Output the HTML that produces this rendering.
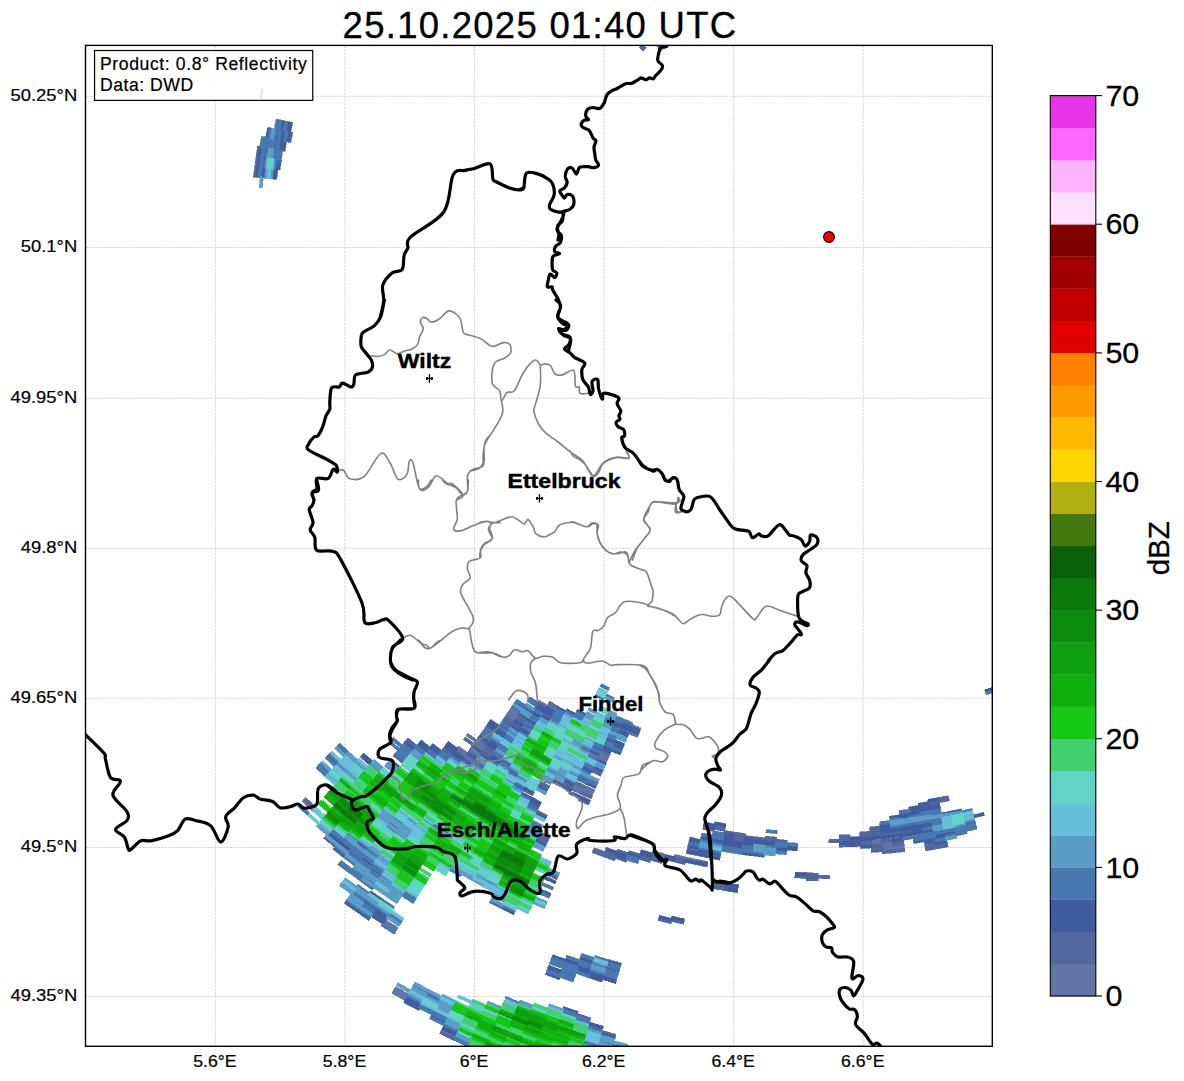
<!DOCTYPE html>
<html><head><meta charset="utf-8"><style>html,body{margin:0;padding:0;background:#fff;width:1184px;height:1081px;overflow:hidden;position:relative}</style></head>
<body>
<svg width="1184" height="1081" viewBox="0 0 1184 1081" style="position:absolute;left:0;top:0">
<defs><clipPath id="ax"><rect x="85.5" y="45.4" width="906.8" height="1000.9"/></clipPath></defs>
<path d="M85.5,96.3H992.3 M85.5,247.5H992.3 M85.5,398.2H992.3 M85.5,548.4H992.3 M85.5,698.2H992.3 M85.5,847.5H992.3 M85.5,996.4H992.3 M215.4,45.4V1046.3 M345.0,45.4V1046.3 M474.5,45.4V1046.3 M604.1,45.4V1046.3 M733.6,45.4V1046.3 M863.2,45.4V1046.3" stroke="#bdbdbd" stroke-width="0.6" stroke-dasharray="2.6,1.0" fill="none"/>
<g clip-path="url(#ax)">
<path fill="#6374a8" stroke="#6374a8" stroke-width="0.6" shape-rendering="crispEdges" d="M638.5,734.6 637.3,737.5 619.2,730.2 620.4,727.3ZM548.0,705.5 546.4,708.2 537.5,702.7 539.1,700.1ZM609.8,754.5 608.6,757.4 598.7,753.2 600.0,750.3ZM608.9,756.6 607.7,759.5 597.8,755.2 599.1,752.3ZM608.0,758.7 606.8,761.6 587.8,753.1 589.2,750.3ZM520.8,712.4 519.1,715.0 510.1,709.0 511.8,706.4ZM607.2,760.8 605.9,763.7 586.9,755.2 588.2,752.3ZM528.0,719.6 526.3,722.3 508.8,710.9 510.6,708.3ZM518.4,716.2 516.7,718.8 507.5,712.8 509.3,710.2ZM517.1,718.1 515.4,720.7 506.3,714.6 508.0,712.0ZM515.9,719.9 514.2,722.6 505.0,716.5 506.8,713.9ZM594.9,789.8 593.7,792.7 583.1,788.1 584.4,785.2ZM594.0,791.8 592.8,794.7 572.6,785.7 573.9,782.9ZM593.1,793.9 591.9,796.8 571.6,787.8 573.0,784.9ZM582.5,791.8 581.3,794.6 570.7,789.8 572.0,787.0ZM487.4,744.3 485.7,746.9 476.0,740.3 477.8,737.7ZM486.2,746.1 484.4,748.8 466.0,735.8 467.8,733.3ZM493.9,753.9 492.2,756.6 473.4,743.9 475.2,741.4ZM483.7,749.9 481.9,752.5 472.1,745.8 474.0,743.2ZM468.3,753.0 466.5,755.6 456.7,748.6 458.6,746.0ZM476.1,761.1 474.4,763.7 455.4,750.4 457.2,747.8ZM474.9,762.9 473.1,765.5 463.1,758.7 464.9,756.1ZM314.9,808.9 312.8,811.3 301.9,801.3 304.1,799.0ZM398.2,927.7 396.5,930.4 383.4,922.0 385.1,919.4ZM397.0,929.6 395.3,932.3 382.1,923.9 383.9,921.3ZM697.2,859.5 696.6,862.6 673.8,857.3 674.6,854.3ZM818.4,875.5 818.3,878.6 806.1,878.3 806.2,875.1ZM409.9,994.6 408.3,997.3 393.9,989.2 395.5,986.5ZM408.8,996.6 407.2,999.3 392.8,991.1 394.4,988.4ZM407.7,998.5 406.2,1001.3 391.7,993.1 393.2,990.4ZM457.1,1036.3 455.8,1039.1 440.5,1031.9 441.9,1029.0ZM902.4,830.5 902.7,833.7 880.9,836.0 880.6,832.8ZM882.2,839.5 882.5,842.6 870.9,843.5 870.7,840.4ZM892.9,840.7 893.3,843.8 871.1,845.7 870.9,842.6ZM893.2,842.9 893.5,846.0 881.9,847.2 881.6,844.0ZM904.0,843.9 904.4,847.1 882.1,849.4 881.8,846.3ZM936.1,841.4 936.6,844.5 925.0,846.4 924.5,843.3ZM904.3,846.2 904.7,849.3 882.3,851.6 882.0,848.5Z"/>
<path fill="#52689f" stroke="#52689f" stroke-width="0.6" shape-rendering="crispEdges" d="M640.9,728.3 639.7,731.2 630.4,727.5 631.5,724.6ZM621.2,727.6 620.0,730.5 610.6,726.4 611.9,723.6ZM558.5,706.4 556.9,709.2 548.0,703.9 549.6,701.2ZM623.9,745.8 622.7,748.7 604.2,740.8 605.5,737.9ZM546.9,707.4 545.2,710.1 528.2,699.5 529.9,696.8ZM552.9,716.2 551.3,718.9 542.2,713.5 543.8,710.8ZM551.7,718.1 550.2,720.9 541.0,715.5 542.6,712.8ZM610.7,752.5 609.5,755.4 599.6,751.1 600.9,748.2ZM536.4,724.8 534.8,727.5 525.5,721.8 527.2,719.1ZM526.8,721.5 525.1,724.2 515.9,718.3 517.6,715.7ZM525.6,723.4 523.9,726.1 514.7,720.2 516.4,717.6ZM523.2,727.2 521.5,729.9 503.8,718.4 505.5,715.8ZM602.8,771.1 601.6,774.0 591.4,769.6 592.6,766.7ZM522.0,729.2 520.3,731.8 502.5,720.2 504.3,717.6ZM601.9,773.2 600.7,776.1 590.4,771.6 591.7,768.8ZM512.2,725.6 510.5,728.3 501.2,722.1 503.0,719.5ZM496.2,731.2 494.5,733.8 485.1,727.4 486.9,724.8ZM585.3,785.6 584.0,788.5 573.5,783.7 574.9,780.9ZM573.8,785.3 572.5,788.2 562.1,783.2 563.4,780.4ZM592.3,796.0 591.0,798.9 580.4,794.2 581.6,791.4ZM572.9,787.4 571.6,790.2 561.1,785.2 562.5,782.4ZM488.7,742.4 486.9,745.0 477.3,738.4 479.1,735.8ZM496.3,750.2 494.6,752.8 484.9,746.3 486.6,743.7ZM589.6,802.2 588.4,805.1 577.6,800.4 578.9,797.5ZM495.1,752.0 493.4,754.7 483.6,748.2 485.4,745.6ZM549.8,786.1 548.3,788.9 537.9,783.5 539.3,780.7ZM548.7,788.1 547.3,790.9 536.8,785.5 538.3,782.7ZM492.7,755.8 491.0,758.5 481.1,751.9 482.8,749.3ZM474.8,743.8 473.0,746.3 463.3,739.5 465.2,736.9ZM491.4,757.7 489.7,760.4 479.8,753.8 481.6,751.2ZM533.9,793.1 532.4,795.9 521.8,790.1 523.3,787.4ZM477.4,759.2 475.6,761.8 465.7,755.0 467.5,752.4ZM465.7,756.7 463.9,759.3 454.1,752.2 455.9,749.7ZM539.6,806.2 538.1,809.0 527.3,803.3 528.8,800.6ZM454.1,753.9 452.2,756.4 442.4,749.2 444.3,746.7ZM538.5,808.2 537.1,811.0 526.2,805.3 527.7,802.6ZM452.8,755.7 450.9,758.3 441.0,751.0 442.9,748.5ZM547.6,815.2 546.2,818.0 535.2,812.5 536.6,809.7ZM428.0,751.1 426.0,753.6 416.3,745.9 418.2,743.4ZM417.6,745.8 415.7,748.3 406.0,740.3 408.0,737.9ZM416.2,747.6 414.2,750.0 404.5,742.0 406.6,739.6ZM550.1,836.3 548.8,839.2 537.4,833.7 538.7,830.9ZM549.2,838.4 547.8,841.2 536.4,835.8 537.8,832.9ZM548.2,840.4 546.9,843.3 535.4,837.8 536.8,835.0ZM547.3,842.5 545.9,845.3 534.4,839.8 535.8,837.0ZM404.9,761.6 402.9,764.0 393.0,755.8 395.0,753.4ZM558.0,876.8 556.8,879.7 544.6,874.4 545.9,871.5ZM369.4,848.0 367.5,850.5 355.9,841.6 357.8,839.1ZM316.4,807.3 314.3,809.6 303.4,799.7 305.6,797.4ZM337.0,845.5 335.0,848.0 323.5,838.5 325.5,836.1ZM386.2,920.1 384.5,922.7 371.5,914.1 373.2,911.5ZM290.9,142.6 287.8,142.0 289.7,131.7 292.8,132.3ZM281.6,131.1 278.5,130.5 280.6,120.0 283.7,120.6ZM256.6,177.3 253.4,177.0 257.5,146.0 260.6,146.5ZM725.6,826.0 725.1,829.1 713.8,827.1 714.4,824.0ZM725.2,828.3 724.7,831.4 713.4,829.3 714.0,826.2ZM777.0,837.3 776.7,840.4 765.2,839.3 765.5,836.2ZM745.6,833.8 745.2,836.9 723.3,833.4 723.9,830.3ZM714.5,828.6 713.9,831.7 702.6,829.4 703.3,826.3ZM787.3,840.4 787.1,843.5 733.4,837.4 733.9,834.3ZM745.0,838.2 744.6,841.3 733.1,839.6 733.6,836.5ZM744.7,840.4 744.2,843.6 732.7,841.8 733.2,838.7ZM699.5,848.5 698.9,851.6 687.2,849.0 687.9,845.9ZM720.6,854.9 720.0,858.0 686.7,851.2 687.4,848.1ZM708.1,861.7 707.5,864.8 695.6,862.4 696.2,859.3ZM807.2,875.2 807.1,878.3 794.9,877.8 795.1,874.6ZM685.9,859.3 685.1,862.4 673.3,859.5 674.0,856.5ZM685.4,861.5 684.6,864.6 661.8,858.9 662.7,855.8ZM663.1,858.3 662.3,861.3 650.4,858.0 651.3,855.0ZM662.5,860.4 661.7,863.5 628.1,853.6 629.1,850.6ZM651.0,859.6 650.1,862.6 638.3,859.1 639.2,856.1ZM629.4,853.0 628.4,856.0 616.7,852.1 617.7,849.1ZM617.2,853.7 616.2,856.7 604.4,852.5 605.5,849.5ZM727.2,883.3 726.7,886.4 714.3,884.4 714.9,881.3ZM627.3,859.4 626.3,862.4 592.9,850.6 594.0,847.7ZM726.8,885.5 726.3,888.7 713.9,886.6 714.5,883.5ZM615.7,858.0 614.7,860.9 592.1,852.7 593.2,849.8ZM737.8,889.5 737.4,892.6 713.5,888.8 714.1,885.7ZM591.0,1017.8 590.0,1020.8 575.2,1016.1 576.1,1013.1ZM602.8,1028.3 601.9,1031.4 586.8,1026.9 587.7,1023.9ZM616.0,1034.3 615.2,1037.4 600.0,1033.2 600.9,1030.1ZM456.1,1038.3 454.8,1041.1 439.5,1033.9 440.9,1031.0ZM684.2,921.1 683.5,924.2 670.4,921.3 671.1,918.3ZM671.7,920.7 671.0,923.8 658.0,920.6 658.7,917.6ZM948.2,795.5 948.8,798.6 938.1,800.7 937.5,797.6ZM948.6,797.7 949.3,800.8 928.6,804.8 928.1,801.7ZM939.3,801.9 939.9,805.0 919.1,808.6 918.6,805.5ZM881.0,826.0 881.3,829.1 870.0,830.0 869.8,826.9ZM881.2,828.2 881.5,831.4 870.1,832.3 869.9,829.1ZM881.4,830.5 881.7,833.6 859.9,835.2 859.7,832.0ZM912.7,829.2 913.1,832.3 901.8,833.8 901.4,830.7ZM881.6,832.7 881.9,835.9 860.0,837.4 859.8,834.3ZM850.3,834.7 850.5,837.8 839.0,838.1 839.0,835.0ZM923.4,829.8 923.9,832.9 860.1,839.6 859.9,836.5ZM850.4,836.9 850.5,840.1 839.0,840.4 839.0,837.2ZM850.5,839.2 850.6,842.3 828.5,842.7 828.5,839.5ZM892.7,838.4 893.0,841.6 881.5,842.7 881.2,839.5ZM871.7,840.3 871.9,843.4 860.3,844.1 860.2,841.0ZM903.5,839.5 903.8,842.6 892.3,843.9 892.0,840.8ZM871.8,842.5 872.1,845.7 860.4,846.4 860.3,843.2ZM850.7,843.7 850.8,846.8 839.2,847.1 839.1,844.0ZM903.7,841.7 904.1,844.8 892.5,846.1 892.2,843.0ZM882.6,843.9 882.9,847.1 871.2,848.0 871.0,844.8ZM882.8,846.2 883.1,849.3 871.4,850.2 871.2,847.1ZM883.0,848.4 883.3,851.6 871.5,852.5 871.3,849.3ZM947.0,841.6 947.6,844.7 925.4,848.7 924.9,845.5ZM904.6,848.4 905.0,851.5 882.5,853.9 882.2,850.7ZM947.5,843.8 948.1,846.9 925.7,850.9 925.2,847.8ZM665.3,49.0 663.2,46.6 666.9,43.5 668.9,45.9ZM643.0,51.3 640.8,49.1 644.4,45.5 646.6,47.8ZM641.4,49.7 639.2,47.5 642.8,43.9 645.0,46.2ZM818.4,873.2 818.4,876.4 795.0,875.5 795.2,872.4ZM829.5,875.5 829.5,878.7 794.9,877.8 795.1,874.6ZM818.3,877.7 818.3,880.9 806.0,880.5 806.1,877.4ZM726.8,885.5 726.3,888.7 713.9,886.6 714.5,883.5ZM726.5,887.8 726.0,890.9 713.5,888.8 714.1,885.7Z"/>
<path fill="#405ca0" stroke="#405ca0" stroke-width="0.6" shape-rendering="crispEdges" d="M632.3,724.9 631.2,727.8 621.8,724.0 623.1,721.1ZM640.1,730.4 638.9,733.3 612.5,722.3 613.7,719.5ZM639.3,732.5 638.1,735.4 611.5,724.4 612.8,721.5ZM629.0,733.2 627.8,736.2 618.3,732.2 619.5,729.3ZM586.5,713.9 585.0,716.7 576.0,712.0 577.4,709.2ZM628.1,735.3 626.9,738.3 608.8,730.5 610.1,727.7ZM576.1,713.6 574.6,716.4 565.5,711.4 567.0,708.7ZM566.7,711.1 565.2,713.8 556.1,708.7 557.7,706.0ZM624.8,743.7 623.6,746.6 605.1,738.8 606.4,735.9ZM556.2,710.3 554.7,713.1 545.6,707.7 547.3,705.0ZM555.1,712.3 553.5,715.0 544.5,709.7 546.1,707.0ZM623.1,747.9 621.9,750.8 612.1,746.7 613.4,743.8ZM554.0,714.2 552.4,717.0 535.1,706.5 536.7,703.9ZM544.5,711.3 542.9,714.0 533.9,708.4 535.6,705.8ZM621.4,752.0 620.2,755.0 601.4,747.0 602.7,744.1ZM611.6,750.4 610.3,753.3 600.5,749.0 601.8,746.2ZM550.6,720.1 549.0,722.8 531.5,712.3 533.2,709.6ZM601.7,748.6 600.4,751.5 590.7,747.0 592.0,744.2ZM541.1,717.1 539.4,719.8 513.8,703.5 515.6,700.8ZM599.9,752.7 598.6,755.6 588.8,751.1 590.1,748.2ZM537.6,722.9 536.0,725.6 518.3,714.5 520.1,711.9ZM606.3,762.8 605.1,765.7 595.0,761.4 596.3,758.5ZM534.1,728.7 532.5,731.4 523.1,725.6 524.8,722.9ZM524.4,725.3 522.7,728.0 513.4,722.1 515.1,719.4ZM603.7,769.0 602.4,771.9 592.3,767.5 593.6,764.7ZM531.8,732.5 530.2,735.2 520.7,729.4 522.4,726.8ZM530.7,734.4 529.0,737.1 519.6,731.3 521.2,728.7ZM592.6,769.1 591.3,772.0 581.2,767.4 582.5,764.5ZM520.8,731.1 519.2,733.7 509.7,727.7 511.5,725.1ZM591.7,771.2 590.4,774.1 580.2,769.4 581.5,766.6ZM509.8,729.4 508.1,732.0 498.7,725.8 500.5,723.2ZM500.0,725.6 498.2,728.2 488.9,721.8 490.7,719.3ZM507.4,733.2 505.6,735.8 487.6,723.7 489.5,721.1ZM588.0,779.4 586.7,782.3 576.4,777.6 577.7,774.7ZM506.1,735.1 504.4,737.7 486.4,725.5 488.2,722.9ZM596.6,785.6 595.4,788.5 584.9,784.0 586.2,781.1ZM504.9,736.9 503.2,739.6 493.7,733.3 495.4,730.7ZM574.8,783.3 573.5,786.2 563.0,781.2 564.4,778.4ZM500.0,744.5 498.3,747.1 488.6,740.7 490.4,738.1ZM563.3,782.8 561.9,785.7 551.5,780.5 553.0,777.7ZM498.8,746.4 497.1,749.0 478.6,736.6 480.4,734.0ZM571.9,789.4 570.6,792.3 550.5,782.5 551.9,779.7ZM497.6,748.3 495.8,750.9 486.1,744.5 487.9,741.9ZM590.5,800.1 589.3,803.0 568.8,793.9 570.1,791.0ZM512.1,765.3 510.5,768.0 491.3,756.0 493.1,753.4ZM501.8,761.6 500.1,764.3 490.1,757.9 491.8,755.3ZM547.7,790.1 546.3,792.9 535.8,787.5 537.2,784.7ZM519.2,774.7 517.6,777.4 507.3,771.4 509.0,768.7ZM500.6,763.5 498.9,766.2 488.9,759.8 490.6,757.2ZM482.4,751.7 480.6,754.3 470.9,747.6 472.7,745.0ZM490.2,759.6 488.5,762.2 478.6,755.7 480.3,753.0ZM534.9,791.1 533.5,793.9 522.9,788.2 524.4,785.4ZM478.6,757.3 476.9,759.9 467.0,753.1 468.8,750.6ZM524.2,787.9 522.7,790.6 512.2,784.7 513.8,782.0ZM485.3,767.1 483.6,769.8 473.5,763.1 475.3,760.5ZM458.0,748.4 456.2,751.0 446.5,743.8 448.4,741.3ZM541.6,802.2 540.2,805.0 519.6,794.1 521.2,791.3ZM456.7,750.3 454.9,752.8 445.1,745.6 447.0,743.1ZM540.6,804.2 539.2,807.0 528.3,801.4 529.8,798.6ZM473.6,764.8 471.8,767.4 443.8,747.4 445.7,744.9ZM463.2,760.4 461.4,762.9 451.4,755.8 453.3,753.3ZM442.4,750.9 440.5,753.4 430.8,745.9 432.7,743.4ZM546.6,817.2 545.2,820.1 534.1,814.5 535.6,811.7ZM441.1,752.7 439.2,755.2 429.4,747.7 431.3,745.2ZM439.7,754.5 437.8,757.0 419.1,742.4 421.1,739.9ZM429.4,749.4 427.4,751.9 417.7,744.1 419.7,741.7ZM437.0,758.1 435.1,760.6 425.2,753.0 427.1,750.5ZM414.8,749.3 412.8,751.8 403.1,743.7 405.1,741.3ZM546.3,844.5 545.0,847.4 533.4,841.8 534.8,839.0ZM400.7,766.8 398.7,769.3 388.6,761.0 390.7,758.6ZM373.6,761.7 371.5,764.1 361.6,755.3 363.7,753.0ZM372.1,763.4 370.1,765.8 360.1,757.0 362.2,754.6ZM556.3,880.9 555.0,883.8 542.8,878.5 544.1,875.6ZM551.0,893.4 549.8,896.3 537.3,890.8 538.6,887.9ZM338.7,763.6 336.5,765.9 326.6,756.5 328.7,754.2ZM515.0,911.8 513.7,914.7 500.8,908.5 502.2,905.7ZM368.0,849.8 366.1,852.3 354.5,843.3 356.4,840.9ZM354.6,845.2 352.7,847.7 341.1,838.5 343.1,836.0ZM373.5,865.0 371.6,867.5 359.7,858.7 361.6,856.2ZM351.9,848.7 349.9,851.2 327.8,833.3 329.9,830.9ZM383.2,874.7 381.4,877.3 369.3,868.6 371.2,866.1ZM361.3,858.8 359.4,861.3 326.4,835.0 328.4,832.6ZM346.3,855.8 344.4,858.3 332.6,849.0 334.6,846.5ZM383.1,899.2 381.4,901.8 368.8,893.1 370.6,890.6ZM388.6,916.3 386.9,918.9 362.3,902.4 364.1,899.8ZM387.4,918.2 385.7,920.8 372.7,912.3 374.5,909.6ZM385.0,922.0 383.2,924.6 370.2,916.0 372.0,913.4ZM370.6,917.8 368.8,920.5 344.2,903.2 346.0,900.7ZM288.7,142.2 285.6,141.6 289.4,121.9 292.5,122.5ZM284.9,151.3 281.8,150.8 283.5,140.4 286.6,140.9ZM288.2,132.3 285.1,131.7 287.2,121.4 290.3,122.1ZM280.0,170.0 276.9,169.7 278.3,159.2 281.4,159.6ZM282.7,150.9 279.6,150.4 283.1,130.4 286.2,131.0ZM276.7,179.4 273.6,179.1 276.0,158.8 279.2,159.3ZM280.5,150.6 277.4,150.1 282.8,120.5 285.9,121.1ZM274.5,179.2 271.3,178.8 272.5,168.2 275.7,168.6ZM276.0,149.9 272.9,149.4 276.5,129.1 279.6,129.7ZM265.5,178.2 262.4,177.9 263.6,167.1 266.7,167.5ZM263.3,178.0 260.1,177.7 264.2,147.1 267.3,147.6ZM268.8,138.7 265.7,138.1 267.6,127.4 270.7,128.0ZM258.8,177.5 255.7,177.2 259.7,146.4 262.8,146.9ZM726.0,823.8 725.5,826.9 714.2,824.9 714.8,821.8ZM715.4,824.2 714.8,827.2 703.5,825.0 704.2,821.9ZM714.9,826.4 714.3,829.5 703.1,827.2 703.7,824.1ZM734.9,834.4 734.4,837.5 723.0,835.6 723.5,832.5ZM776.6,841.8 776.3,844.9 743.6,841.2 744.0,838.1ZM734.5,836.7 734.0,839.8 722.6,837.8 723.1,834.7ZM797.6,845.5 797.4,848.6 785.8,847.9 786.0,844.8ZM776.4,844.0 776.1,847.2 743.3,843.4 743.7,840.3ZM734.2,838.9 733.7,842.0 722.2,840.1 722.7,837.0ZM797.5,847.7 797.3,850.9 774.9,849.3 775.2,846.2ZM755.0,844.1 754.6,847.2 700.7,838.2 701.4,835.1ZM786.7,849.3 786.5,852.5 774.7,851.6 775.0,848.4ZM744.1,844.9 743.6,848.0 700.2,840.4 700.9,837.3ZM743.8,847.1 743.3,850.2 721.0,846.7 721.5,843.6ZM701.4,839.7 700.7,842.8 689.2,840.2 689.9,837.1ZM700.9,841.9 700.3,845.0 688.7,842.4 689.4,839.3ZM764.6,854.2 764.3,857.3 741.7,854.6 742.1,851.4ZM700.0,846.3 699.3,849.4 687.7,846.8 688.4,843.7ZM721.0,852.6 720.4,855.7 697.9,851.4 698.6,848.3ZM720.2,857.1 719.6,860.2 686.2,853.4 686.9,850.3ZM807.3,872.9 807.2,876.1 795.0,875.5 795.2,872.4ZM707.7,863.9 707.1,867.0 684.1,862.1 684.9,859.1ZM675.0,856.7 674.3,859.8 662.4,856.7 663.2,853.7ZM663.6,856.1 662.8,859.1 640.2,852.7 641.2,849.7ZM652.2,855.3 651.4,858.3 639.6,854.8 640.5,851.8ZM640.2,856.4 639.3,859.4 627.4,855.7 628.4,852.7ZM628.7,855.2 627.7,858.2 605.2,850.4 606.3,847.4ZM628.0,857.3 627.0,860.3 615.2,856.3 616.2,853.4ZM738.5,885.0 738.0,888.1 725.6,886.3 726.1,883.2ZM738.1,887.2 737.7,890.4 725.3,888.5 725.8,885.4ZM578.1,1011.4 577.1,1014.4 562.3,1009.5 563.4,1006.5ZM603.4,1026.2 602.5,1029.2 587.5,1024.8 588.4,1021.7ZM615.5,1036.5 614.6,1039.6 599.4,1035.3 600.3,1032.3ZM627.3,1048.9 626.5,1051.9 611.0,1047.9 611.8,1044.9ZM626.7,1051.0 626.0,1054.1 610.4,1050.1 611.3,1047.0ZM612.0,1049.6 611.2,1052.6 595.7,1048.3 596.5,1045.3ZM441.7,998.7 440.2,1001.5 425.7,994.0 427.2,991.2ZM422.1,1003.8 420.6,1006.6 406.0,998.6 407.6,995.9ZM421.0,1005.8 419.6,1008.5 404.9,1000.6 406.5,997.8ZM447.1,1021.5 445.7,1024.4 430.8,1016.9 432.2,1014.1ZM420.0,1007.7 418.5,1010.5 403.8,1002.6 405.4,999.8ZM459.0,1032.2 457.6,1035.0 442.5,1027.8 443.9,1025.0ZM458.0,1034.2 456.7,1037.1 441.5,1029.8 442.9,1027.0ZM684.6,918.9 684.0,922.0 670.9,919.1 671.7,916.1ZM672.2,918.5 671.5,921.6 658.5,918.4 659.3,915.4ZM621.3,963.4 620.5,966.5 606.6,962.4 607.5,959.4ZM594.7,960.0 593.7,963.0 579.9,958.4 581.0,955.4ZM619.5,969.9 618.6,973.0 579.2,960.5 580.2,957.6ZM579.9,962.2 578.9,965.2 565.1,960.3 566.2,957.3ZM591.9,968.6 591.0,971.6 551.7,957.7 552.8,954.7ZM617.0,978.6 616.1,981.6 576.3,969.1 577.3,966.1ZM616.4,980.8 615.5,983.8 575.5,971.2 576.6,968.2ZM602.8,979.1 601.9,982.1 587.7,977.6 588.7,974.6ZM575.5,975.0 574.5,978.0 547.7,968.2 548.8,965.2ZM561.9,972.6 560.9,975.5 546.8,970.3 548.0,967.3ZM560.4,976.8 559.3,979.8 545.2,974.5 546.4,971.5ZM938.4,797.5 939.0,800.6 928.3,802.6 927.7,799.5ZM929.0,801.5 929.6,804.6 918.7,806.4 918.2,803.3ZM919.5,805.4 920.0,808.5 909.1,810.1 908.6,807.0ZM939.7,804.1 940.3,807.2 909.4,812.4 909.0,809.2ZM940.1,806.3 940.7,809.4 899.6,815.9 899.2,812.8ZM920.6,812.1 921.0,815.2 889.7,819.3 889.4,816.2ZM910.8,815.8 911.3,818.9 900.2,820.4 899.8,817.2ZM961.5,808.7 962.2,811.7 941.1,816.2 940.5,813.1ZM891.0,822.8 891.4,825.9 880.1,827.0 879.9,823.8ZM891.3,825.0 891.6,828.1 880.3,829.2 880.1,826.1ZM932.5,821.4 933.1,824.6 880.5,831.5 880.3,828.3ZM983.7,812.4 984.5,815.4 973.4,818.3 972.7,815.2ZM932.9,823.7 933.5,826.8 880.7,833.7 880.5,830.6ZM923.0,827.6 923.5,830.7 912.2,832.4 911.8,829.3ZM974.7,819.4 975.5,822.4 964.3,825.1 963.6,822.0ZM933.7,828.1 934.3,831.2 922.9,833.1 922.4,830.0ZM860.9,836.5 861.1,839.6 849.6,840.1 849.5,837.0ZM934.1,830.3 934.7,833.4 849.7,842.3 849.5,839.2ZM903.2,837.2 903.6,840.4 892.1,841.7 891.7,838.5ZM861.1,840.9 861.3,844.1 839.1,844.9 839.1,841.7ZM955.7,830.7 956.3,833.8 934.5,838.0 933.9,834.9ZM861.3,843.2 861.4,846.3 849.8,846.8 849.7,843.7ZM945.7,835.0 946.3,838.1 913.8,843.6 913.3,840.4ZM872.0,844.8 872.2,847.9 860.6,848.6 860.4,845.5ZM935.7,839.2 936.2,842.3 924.7,844.2 924.2,841.1ZM946.6,839.4 947.2,842.5 935.6,844.7 935.1,841.6ZM660.5,50.2 658.4,47.9 662.1,44.6 664.1,47.0ZM659.0,48.5 656.9,46.2 660.6,42.9 662.6,45.3ZM993.1,686.8 994.2,689.8 985.5,692.8 984.5,689.8ZM738.5,885.0 738.0,888.1 725.6,886.3 726.1,883.2ZM738.1,887.2 737.7,890.4 725.3,888.5 725.8,885.4ZM737.8,889.5 737.4,892.6 724.9,890.7 725.4,887.6Z"/>
<path fill="#4878b0" stroke="#4878b0" stroke-width="0.6" shape-rendering="crispEdges" d="M609.6,687.7 608.2,690.6 599.6,686.3 601.1,683.5ZM614.7,697.6 613.3,700.5 604.5,696.3 605.9,693.5ZM604.7,697.9 603.3,700.7 594.5,696.3 595.9,693.5ZM633.2,722.8 632.0,725.7 614.3,718.2 615.6,715.3ZM623.8,721.4 622.6,724.3 613.4,720.3 614.7,717.4ZM614.5,719.8 613.2,722.7 604.0,718.5 605.3,715.6ZM613.6,721.9 612.3,724.7 603.1,720.5 604.4,717.7ZM612.7,723.9 611.4,726.8 602.1,722.6 603.4,719.7ZM620.3,729.7 619.1,732.6 609.7,728.5 611.0,725.6ZM585.5,715.9 584.0,718.7 574.9,714.0 576.4,711.2ZM584.4,717.9 583.0,720.7 573.8,716.0 575.3,713.2ZM617.7,735.9 616.5,738.8 607.0,734.7 608.2,731.8ZM583.4,719.9 582.0,722.8 564.4,713.4 566.0,710.7ZM616.8,738.0 615.6,740.9 606.0,736.7 607.3,733.8ZM565.6,713.0 564.1,715.8 546.8,705.8 548.4,703.1ZM564.5,715.0 563.0,717.8 553.9,712.6 555.5,709.9ZM563.4,717.0 561.9,719.7 552.8,714.6 554.3,711.8ZM614.2,744.2 613.0,747.1 603.3,742.9 604.6,740.0ZM562.4,719.0 560.8,721.7 551.6,716.5 553.2,713.8ZM537.5,704.3 535.8,707.0 526.9,701.3 528.6,698.7ZM622.2,749.9 621.1,752.9 602.4,744.9 603.7,742.1ZM561.3,720.9 559.7,723.7 550.5,718.5 552.1,715.7ZM603.5,744.5 602.3,747.4 592.6,742.9 593.9,740.1ZM560.2,722.9 558.6,725.6 549.4,720.4 551.0,717.7ZM543.4,713.2 541.8,715.9 532.7,710.4 534.4,707.7ZM602.6,746.5 601.4,749.4 591.6,745.0 593.0,742.1ZM533.9,710.1 532.3,712.7 515.1,701.6 516.9,699.0ZM600.8,750.6 599.5,753.5 589.7,749.1 591.1,746.2ZM539.9,719.0 538.3,721.7 529.1,716.1 530.8,713.4ZM590.9,748.6 589.6,751.5 579.8,746.8 581.2,744.0ZM538.8,720.9 537.1,723.6 527.9,718.0 529.6,715.3ZM522.0,710.5 520.3,713.2 511.3,707.2 513.1,704.6ZM590.0,750.7 588.6,753.5 578.9,748.8 580.2,746.0ZM597.2,758.9 595.9,761.7 585.9,757.2 587.2,754.4ZM535.3,726.7 533.7,729.4 524.3,723.7 526.0,721.0ZM533.0,730.6 531.3,733.3 521.9,727.5 523.6,724.8ZM594.4,765.0 593.1,767.9 583.1,763.3 584.4,760.5ZM593.5,767.1 592.2,770.0 582.1,765.4 583.4,762.5ZM529.5,736.4 527.9,739.1 518.4,733.2 520.0,730.6ZM511.0,727.5 509.3,730.1 500.0,724.0 501.7,721.4ZM590.8,773.3 589.5,776.1 579.2,771.5 580.6,768.6ZM518.4,734.9 516.8,737.6 507.3,731.5 509.0,728.9ZM508.6,731.3 506.9,733.9 497.5,727.7 499.2,725.1ZM598.4,781.5 597.2,784.4 577.3,775.6 578.7,772.7ZM516.1,738.7 514.4,741.4 504.8,735.3 506.6,732.6ZM597.5,783.6 596.3,786.5 585.9,781.9 587.1,779.0ZM578.6,775.1 577.3,778.0 567.0,773.1 568.4,770.3ZM514.9,740.6 513.2,743.3 503.6,737.2 505.3,734.5ZM587.1,781.5 585.8,784.4 575.4,779.6 576.8,776.8ZM513.7,742.5 512.0,745.2 502.4,739.1 504.1,736.4ZM495.0,733.1 493.2,735.7 483.8,729.2 485.6,726.6ZM575.7,781.3 574.4,784.1 545.3,769.6 546.8,766.8ZM493.7,734.9 492.0,737.6 482.5,731.0 484.3,728.5ZM510.1,748.2 508.4,750.9 481.2,732.9 483.0,730.3ZM508.9,750.2 507.2,752.8 497.5,746.6 499.2,744.0ZM491.2,738.7 489.4,741.3 479.9,734.7 481.7,732.1ZM507.7,752.1 506.1,754.7 496.3,748.5 498.0,745.9ZM505.3,755.9 503.7,758.6 493.8,752.3 495.5,749.6ZM513.3,763.4 511.7,766.1 492.6,754.1 494.3,751.5ZM520.3,772.7 518.7,775.4 499.3,763.8 500.9,761.1ZM528.6,780.0 527.1,782.7 516.7,776.9 518.3,774.2ZM509.8,769.2 508.2,771.9 498.1,765.7 499.7,763.0ZM518.0,776.6 516.5,779.3 506.2,773.3 507.8,770.6ZM499.4,765.4 497.7,768.1 487.7,761.7 489.4,759.1ZM481.1,753.6 479.4,756.2 469.6,749.5 471.4,746.9ZM479.9,755.5 478.1,758.1 468.3,751.3 470.1,748.7ZM525.3,785.9 523.8,788.6 513.3,782.7 514.9,780.0ZM514.7,782.5 513.1,785.2 502.7,779.1 504.3,776.4ZM486.5,765.3 484.8,767.9 474.8,761.2 476.5,758.6ZM523.1,789.8 521.6,792.6 511.1,786.6 512.7,783.9ZM484.1,769.0 482.4,771.7 472.3,765.0 474.0,762.4ZM530.7,799.1 529.2,801.8 518.5,796.0 520.1,793.3ZM472.4,766.7 470.6,769.3 460.5,762.4 462.3,759.8ZM461.9,762.2 460.1,764.8 450.1,757.7 451.9,755.1ZM537.5,810.2 536.1,813.0 525.2,807.3 526.7,804.5ZM451.4,757.5 449.6,760.1 439.7,752.8 441.6,750.3ZM450.1,759.4 448.3,761.9 438.3,754.6 440.2,752.0ZM448.8,761.2 446.9,763.7 437.0,756.4 438.9,753.8ZM438.4,756.3 436.5,758.8 426.6,751.2 428.5,748.7ZM542.6,825.3 541.3,828.1 530.1,822.6 531.5,819.7ZM426.6,752.9 424.6,755.4 414.8,747.6 416.8,745.2ZM541.7,827.3 540.3,830.2 529.0,824.6 530.5,821.8ZM425.2,754.7 423.3,757.2 413.4,749.4 415.4,746.9ZM540.7,829.4 539.3,832.2 528.0,826.6 529.4,823.8ZM413.4,751.1 411.4,753.5 401.7,745.5 403.7,743.1ZM538.7,833.4 537.3,836.2 526.0,830.6 527.4,827.8ZM412.0,752.8 410.0,755.3 391.4,739.6 393.4,737.3ZM410.6,754.6 408.6,757.0 398.8,748.9 400.8,746.5ZM409.2,756.3 407.2,758.8 388.4,743.0 390.5,740.6ZM407.7,758.1 405.8,760.5 395.9,752.4 397.9,749.9ZM406.3,759.8 404.3,762.3 394.4,754.1 396.4,751.7ZM558.9,874.7 557.7,877.6 545.5,872.3 546.8,869.5ZM381.4,771.3 379.3,773.7 369.2,765.1 371.3,762.7ZM349.4,752.1 347.3,754.4 337.5,745.1 339.7,742.9ZM553.6,887.1 552.4,890.0 540.0,884.7 541.3,881.8ZM455.3,836.1 453.7,838.7 432.0,824.6 433.7,822.0ZM357.0,762.1 354.9,764.4 335.9,746.8 338.1,744.5ZM443.7,831.3 442.0,834.0 420.5,819.5 422.3,816.9ZM550.1,895.4 548.9,898.3 536.4,892.9 537.6,890.0ZM340.2,762.0 338.1,764.3 328.1,754.8 330.3,752.6ZM348.0,772.1 345.8,774.5 335.7,765.2 337.8,762.9ZM337.2,765.3 335.0,767.6 325.0,758.1 327.2,755.8ZM403.9,823.1 402.0,825.7 390.9,817.4 392.8,814.9ZM498.8,886.4 497.3,889.2 485.0,882.8 486.5,880.0ZM399.9,828.6 398.1,831.1 386.8,822.8 388.7,820.3ZM331.0,771.9 328.9,774.2 318.7,764.6 320.9,762.3ZM329.5,773.5 327.3,775.8 317.2,766.2 319.4,763.9ZM461.9,874.1 460.3,876.8 448.2,869.7 449.8,867.0ZM397.3,832.2 395.4,834.8 384.1,826.4 386.0,823.9ZM328.0,775.2 325.8,777.5 315.6,767.8 317.8,765.5ZM515.9,909.8 514.6,912.6 501.8,906.5 503.2,903.7ZM503.3,906.2 501.9,909.1 489.1,902.7 490.6,899.9ZM380.1,855.9 378.3,858.4 366.5,849.7 368.4,847.2ZM358.8,839.8 356.8,842.3 345.4,833.2 347.4,830.8ZM378.8,857.7 376.9,860.3 365.1,851.5 367.0,849.0ZM376.1,861.4 374.3,863.9 351.7,846.9 353.7,844.4ZM344.1,836.8 342.1,839.3 330.7,829.9 332.7,827.5ZM385.8,871.0 384.0,873.6 329.3,831.6 331.3,829.2ZM384.5,872.9 382.7,875.4 370.6,866.8 372.5,864.3ZM362.6,857.0 360.7,859.5 348.9,850.4 350.9,848.0ZM310.3,813.9 308.2,816.3 297.3,806.3 299.5,804.0ZM417.2,897.2 415.6,899.8 403.0,891.8 404.7,889.2ZM394.4,882.4 392.7,885.0 380.4,876.6 382.2,874.0ZM372.2,866.8 370.3,869.4 358.4,860.5 360.3,858.0ZM416.0,899.1 414.4,901.7 401.8,893.7 403.5,891.1ZM381.9,876.5 380.1,879.1 346.2,854.0 348.1,851.5ZM414.8,901.0 413.2,903.6 400.6,895.6 402.3,893.0ZM391.9,886.1 390.2,888.7 366.7,872.3 368.5,869.7ZM347.7,854.0 345.8,856.5 334.1,847.2 336.0,844.8ZM357.2,864.1 355.3,866.7 343.4,857.5 345.3,855.0ZM376.8,883.9 375.0,886.5 351.6,869.5 353.5,867.0ZM364.3,877.7 362.4,880.3 339.2,862.8 341.2,860.4ZM374.2,887.6 372.4,890.2 337.8,864.6 339.8,862.1ZM394.8,906.9 393.0,909.5 380.3,901.1 382.1,898.5ZM370.3,893.1 368.5,895.7 356.1,886.8 357.9,884.3ZM402.9,920.1 401.3,922.7 388.3,914.5 390.0,911.8ZM401.7,922.0 400.1,924.6 352.1,892.3 354.0,889.7ZM365.2,900.5 363.4,903.1 350.8,894.1 352.6,891.6ZM375.6,910.4 373.8,913.0 361.0,904.2 362.8,901.6ZM374.3,912.2 372.6,914.9 359.7,906.0 361.5,903.5ZM395.8,931.5 394.1,934.2 380.9,925.8 382.6,923.1ZM371.8,916.0 370.1,918.6 345.5,901.4 347.3,898.8ZM286.5,141.8 283.4,141.2 285.3,130.9 288.4,131.5ZM281.3,160.5 278.2,160.0 279.7,149.6 282.8,150.0ZM286.0,131.9 282.9,131.3 285.0,120.9 288.1,121.6ZM279.0,160.2 275.9,159.7 277.5,149.2 280.6,149.7ZM275.6,169.5 272.4,169.1 278.7,129.6 281.8,130.2ZM274.6,159.5 271.5,159.1 273.1,148.5 276.2,149.0ZM279.4,130.6 276.3,130.0 278.4,119.5 281.5,120.2ZM273.8,149.5 270.7,149.0 276.2,119.0 279.3,119.7ZM271.6,149.2 268.5,148.7 270.2,138.0 273.4,138.6ZM266.6,168.4 263.5,168.0 269.9,127.8 272.9,128.5ZM267.1,148.5 264.0,148.0 265.8,137.2 268.9,137.8ZM261.0,177.8 257.9,177.4 263.6,136.8 266.7,137.4ZM262.7,147.8 259.6,147.3 261.4,136.4 264.5,137.0ZM777.5,830.6 777.3,833.7 765.9,832.6 766.2,829.5ZM724.5,832.7 723.9,835.8 712.5,833.7 713.1,830.6ZM797.7,843.2 797.6,846.4 775.3,844.8 775.6,841.7ZM724.1,834.9 723.5,838.0 712.1,835.9 712.7,832.8ZM787.0,844.8 786.8,848.0 775.1,847.1 775.4,843.9ZM723.7,837.1 723.1,840.2 701.2,836.0 701.8,832.9ZM776.2,846.3 775.9,849.4 764.3,848.3 764.6,845.1ZM754.7,846.3 754.3,849.4 742.6,847.9 743.1,844.8ZM786.5,851.6 786.3,854.7 774.5,853.8 774.8,850.7ZM754.4,848.5 754.0,851.6 742.3,850.1 742.8,847.0ZM722.5,843.8 722.0,846.9 699.8,842.6 700.4,839.5ZM764.9,852.0 764.5,855.1 720.6,848.9 721.1,845.8ZM743.1,851.6 742.7,854.7 720.2,851.1 720.8,848.0ZM700.5,844.1 699.8,847.2 688.2,844.6 688.9,841.5ZM721.3,850.4 720.8,853.5 698.4,849.2 699.0,846.1ZM664.2,853.9 663.4,857.0 651.6,853.7 652.5,850.7ZM639.5,858.6 638.6,861.6 626.7,857.8 627.7,854.8ZM638.9,860.7 637.9,863.7 626.0,860.0 627.0,857.0ZM577.4,1013.5 576.4,1016.5 561.6,1011.6 562.6,1008.6ZM590.3,1020.0 589.4,1023.0 560.9,1013.7 561.9,1010.7ZM589.6,1022.1 588.7,1025.1 573.8,1020.4 574.7,1017.4ZM602.2,1030.5 601.3,1033.5 586.2,1029.1 587.1,1026.0ZM520.4,1002.5 519.3,1005.4 504.7,999.3 505.9,996.4ZM627.8,1046.7 627.1,1049.7 597.5,1041.8 598.4,1038.8ZM612.6,1047.4 611.7,1050.4 582.2,1042.0 583.1,1039.0ZM597.8,1045.7 597.0,1048.7 581.5,1044.1 582.5,1041.1ZM611.4,1051.7 610.6,1054.8 595.0,1050.5 595.9,1047.4ZM596.0,1052.1 595.1,1055.2 579.6,1050.6 580.5,1047.6ZM428.4,991.8 426.9,994.6 412.6,986.8 414.1,984.1ZM440.6,1000.7 439.2,1003.5 424.7,996.0 426.2,993.2ZM423.1,1001.8 421.7,1004.6 407.1,996.7 408.6,993.9ZM449.1,1017.5 447.7,1020.3 419.4,1005.9 420.9,1003.1ZM448.1,1019.5 446.7,1022.4 418.3,1007.9 419.8,1005.1ZM459.9,1030.1 458.6,1033.0 429.8,1018.9 431.2,1016.1ZM471.1,1042.6 469.8,1045.5 454.5,1038.5 455.8,1035.7ZM470.2,1044.7 468.9,1047.6 453.5,1040.5 454.8,1037.7ZM608.7,959.7 607.8,962.7 594.0,958.4 594.9,955.4ZM620.7,965.6 619.8,968.6 605.9,964.5 606.9,961.5ZM595.4,957.9 594.4,960.9 580.7,956.3 581.7,953.3ZM620.1,967.8 619.2,970.8 605.3,966.7 606.2,963.7ZM618.8,972.1 618.0,975.1 604.0,971.0 604.9,968.0ZM593.3,964.3 592.4,967.3 565.9,958.2 566.9,955.2ZM618.2,974.3 617.4,977.3 603.3,973.1 604.2,970.1ZM592.6,966.5 591.7,969.5 577.7,964.8 578.8,961.8ZM617.6,976.4 616.7,979.5 589.8,971.2 590.8,968.2ZM578.5,966.5 577.4,969.5 550.9,959.8 552.0,956.8ZM577.7,968.6 576.7,971.6 550.1,961.9 551.2,958.9ZM589.9,975.0 588.9,978.0 549.3,964.0 550.4,961.0ZM576.3,972.9 575.3,975.8 561.2,970.9 562.3,967.9ZM574.8,977.1 573.8,980.1 559.7,975.1 560.8,972.1ZM574.1,979.2 573.1,982.2 546.0,972.4 547.2,969.4ZM909.9,809.1 910.3,812.2 899.3,813.7 899.0,810.5ZM940.6,808.5 941.2,811.6 920.1,815.3 919.6,812.2ZM941.0,810.7 941.6,813.8 910.3,819.0 909.9,815.9ZM900.7,817.1 901.1,820.3 890.0,821.5 889.6,818.4ZM941.4,812.9 942.0,816.0 931.0,818.1 930.4,815.0ZM890.8,820.5 891.1,823.7 879.9,824.7 879.7,821.6ZM972.0,808.4 972.7,811.5 961.8,814.1 961.0,811.1ZM942.3,817.3 942.9,820.4 890.7,828.2 890.3,825.1ZM942.7,819.6 943.3,822.6 932.1,824.7 931.6,821.6ZM943.2,821.8 943.8,824.9 932.5,826.9 932.0,823.8ZM933.3,825.9 933.9,829.0 922.6,830.9 922.1,827.8ZM975.2,821.5 976.0,824.6 933.7,833.6 933.2,830.5ZM975.8,823.7 976.5,826.8 902.6,840.5 902.2,837.4ZM976.3,825.9 977.1,829.0 955.4,834.0 954.7,830.9ZM934.9,834.7 935.4,837.8 913.4,841.3 913.0,838.2ZM966.5,830.6 967.2,833.6 945.4,838.3 944.8,835.2ZM946.2,837.2 946.8,840.3 935.3,842.4 934.7,839.3ZM993.9,688.9 995.0,691.9 986.3,694.9 985.3,692.0Z"/>
<path fill="#5a9ec8" stroke="#5a9ec8" stroke-width="0.6" shape-rendering="crispEdges" d="M613.7,699.7 612.4,702.5 603.5,698.3 604.9,695.5ZM617.2,713.6 616.0,716.5 606.9,712.4 608.2,709.5ZM616.3,715.7 615.1,718.6 605.9,714.4 607.3,711.5ZM615.4,717.7 614.1,720.6 605.0,716.4 606.3,713.6ZM597.8,712.0 596.4,714.9 587.3,710.3 588.8,707.5ZM595.8,716.1 594.4,718.9 585.3,714.3 586.7,711.5ZM611.8,726.0 610.5,728.8 601.2,724.6 602.5,721.7ZM594.8,718.1 593.5,720.9 584.3,716.3 585.7,713.5ZM610.9,728.0 609.6,730.9 600.2,726.6 601.5,723.8ZM593.8,720.1 592.5,722.9 583.3,718.3 584.7,715.5ZM627.3,737.4 626.1,740.3 607.9,732.6 609.2,729.7ZM626.4,739.5 625.3,742.4 615.7,738.5 616.9,735.6ZM591.9,724.2 590.5,727.0 581.2,722.4 582.6,719.6ZM608.1,734.2 606.8,737.1 597.3,732.7 598.7,729.9ZM574.0,717.6 572.5,720.4 563.3,715.4 564.9,712.6ZM594.7,740.5 593.4,743.3 583.8,738.7 585.2,735.9ZM568.7,727.5 567.2,730.3 557.9,725.2 559.4,722.5ZM535.1,708.2 533.4,710.8 524.5,705.1 526.2,702.5ZM559.1,724.9 557.6,727.6 548.3,722.4 549.8,719.6ZM549.5,722.0 547.9,724.8 538.7,719.3 540.3,716.6ZM591.9,746.6 590.5,749.4 572.0,740.4 573.4,737.6ZM548.4,724.0 546.8,726.7 537.5,721.2 539.1,718.5ZM531.5,713.9 529.9,716.6 512.6,705.3 514.3,702.7ZM582.0,744.4 580.7,747.2 571.0,742.4 572.4,739.6ZM530.3,715.8 528.7,718.5 519.6,712.7 521.3,710.0ZM581.0,746.4 579.7,749.2 561.1,739.8 562.6,737.0ZM589.0,752.7 587.7,755.6 577.9,750.9 579.2,748.0ZM605.4,764.9 604.2,767.8 594.1,763.4 595.4,760.5ZM604.5,767.0 603.3,769.9 593.2,765.5 594.5,762.6ZM576.1,756.5 574.7,759.4 564.8,754.4 566.3,751.6ZM582.4,767.0 581.1,769.8 552.7,755.7 554.2,752.9ZM519.6,733.0 518.0,735.6 508.5,729.6 510.2,727.0ZM581.4,769.0 580.1,771.9 570.0,767.0 571.3,764.2ZM563.0,760.1 561.6,762.9 551.6,757.7 553.1,754.9ZM527.2,740.2 525.6,742.9 516.0,737.1 517.6,734.4ZM599.3,779.4 598.0,782.3 578.3,773.5 579.6,770.7ZM517.3,736.8 515.6,739.5 506.1,733.4 507.8,730.8ZM579.5,773.1 578.2,776.0 568.0,771.1 569.4,768.2ZM524.9,744.1 523.2,746.8 513.6,740.9 515.3,738.2ZM569.2,770.7 567.9,773.5 557.7,768.4 559.1,765.6ZM568.2,772.7 566.9,775.5 556.7,770.5 558.1,767.6ZM567.3,774.7 565.9,777.6 546.3,767.6 547.8,764.8ZM502.5,740.7 500.7,743.4 491.2,737.0 492.9,734.4ZM565.3,778.8 563.9,781.6 544.2,771.6 545.7,768.8ZM564.3,780.8 562.9,783.6 552.6,778.5 554.0,775.7ZM553.8,778.1 552.4,780.9 542.1,775.5 543.6,772.8ZM552.8,780.1 551.4,782.9 541.0,777.5 542.5,774.8ZM506.5,754.0 504.9,756.6 495.0,750.4 496.7,747.7ZM551.8,782.1 550.4,784.9 540.0,779.5 541.5,776.7ZM521.4,770.8 519.8,773.5 509.7,767.5 511.3,764.8ZM546.7,792.1 545.3,795.0 534.7,789.4 536.2,786.7ZM527.5,782.0 526.0,784.7 515.6,778.8 517.2,776.1ZM489.0,761.5 487.3,764.1 477.3,757.5 479.1,754.9ZM487.8,763.4 486.1,766.0 476.0,759.4 477.8,756.8ZM522.1,791.8 520.5,794.6 510.0,788.6 511.5,785.8ZM482.9,770.9 481.2,773.6 471.0,766.8 472.8,764.2ZM460.6,764.1 458.8,766.6 448.8,759.5 450.6,756.9ZM536.5,812.2 535.1,815.0 524.1,809.3 525.6,806.5ZM446.2,764.8 444.3,767.4 434.3,760.0 436.2,757.4ZM423.8,756.5 421.9,758.9 412.0,751.1 414.0,748.7ZM539.7,831.4 538.3,834.2 527.0,828.6 528.4,825.8ZM422.4,758.2 420.5,760.7 410.6,752.8 412.6,750.4ZM421.1,760.0 419.1,762.5 409.2,754.6 411.2,752.1ZM537.7,835.4 536.3,838.3 524.9,832.6 526.4,829.8ZM545.4,846.5 544.0,849.4 532.4,843.9 533.8,841.0ZM544.4,848.6 543.1,851.4 531.4,845.9 532.8,843.0ZM399.3,768.6 397.3,771.0 387.2,762.7 389.2,760.3ZM397.8,770.3 395.9,772.8 385.7,764.4 387.8,762.0ZM396.4,772.1 394.4,774.5 384.3,766.1 386.3,763.7ZM559.8,872.6 558.6,875.5 546.4,870.3 547.7,867.4ZM384.3,767.9 382.2,770.3 372.2,761.7 374.2,759.3ZM382.8,769.6 380.8,772.0 370.7,763.4 372.8,761.0ZM367.7,768.5 365.6,770.9 346.4,753.6 348.6,751.3ZM366.2,770.2 364.2,772.6 354.0,763.7 356.1,761.3ZM454.1,838.0 452.5,840.6 441.0,833.4 442.8,830.7ZM346.4,755.4 344.2,757.7 334.4,748.4 336.6,746.1ZM419.3,823.1 417.5,825.6 396.3,810.2 398.2,807.7ZM428.4,832.0 426.6,834.6 405.1,819.5 406.9,817.0ZM358.8,778.7 356.8,781.1 337.2,763.5 339.4,761.2ZM357.4,780.4 355.3,782.8 345.0,773.7 347.1,771.3ZM547.5,901.6 546.3,904.5 533.6,899.0 534.9,896.2ZM414.2,830.4 412.4,833.0 401.1,825.0 402.9,822.4ZM393.7,815.6 391.8,818.1 380.8,809.7 382.8,807.2ZM545.7,905.8 544.5,908.7 531.8,903.1 533.1,900.3ZM499.8,884.4 498.4,887.2 474.8,874.7 476.4,872.0ZM412.9,832.3 411.1,834.9 379.4,811.5 381.4,809.0ZM510.1,892.1 508.8,894.9 496.3,888.7 497.7,885.9ZM487.5,880.5 486.0,883.3 473.8,876.7 475.3,873.9ZM411.6,834.1 409.8,836.7 378.1,813.2 380.0,810.7ZM332.6,770.2 330.4,772.5 320.3,762.9 322.5,760.7ZM475.2,876.5 473.7,879.2 450.5,865.8 452.1,863.1ZM410.3,836.0 408.5,838.6 397.1,830.4 399.0,827.9ZM389.7,821.0 387.8,823.5 376.7,815.0 378.6,812.5ZM485.4,884.5 483.9,887.3 449.3,867.7 450.9,865.0ZM409.0,837.8 407.2,840.4 375.3,816.8 377.2,814.3ZM338.9,782.2 336.8,784.5 326.5,775.0 328.6,772.7ZM507.2,898.1 505.8,901.0 493.2,894.7 494.7,891.9ZM407.7,839.7 405.9,842.2 394.5,834.1 396.3,831.5ZM506.2,900.2 504.8,903.0 492.2,896.7 493.6,893.9ZM504.2,904.2 502.9,907.0 490.2,900.7 491.6,897.9ZM382.7,852.3 380.9,854.8 369.2,846.2 371.1,843.6ZM392.3,861.8 390.5,864.4 357.3,839.8 359.2,837.3ZM391.0,863.6 389.2,866.2 377.3,857.7 379.1,855.2ZM389.7,865.5 387.9,868.1 375.9,859.5 377.8,857.0ZM357.4,841.6 355.5,844.1 344.0,835.0 346.0,832.5ZM377.5,859.5 375.6,862.1 342.6,836.7 344.5,834.3ZM387.1,869.2 385.3,871.7 373.3,863.2 375.1,860.6ZM330.8,831.7 328.8,834.1 317.5,824.5 319.6,822.1ZM329.4,833.4 327.3,835.8 316.0,826.2 318.1,823.8ZM404.5,891.8 402.8,894.4 379.1,878.4 380.9,875.8ZM349.1,852.3 347.2,854.8 324.9,836.8 327.0,834.3ZM403.3,893.6 401.6,896.3 389.1,888.0 390.9,885.4ZM369.5,870.5 367.7,873.0 344.8,855.8 346.7,853.3ZM402.1,895.5 400.4,898.2 354.3,865.9 356.2,863.4ZM400.9,897.4 399.2,900.1 386.6,891.8 388.4,889.1ZM378.1,882.1 376.3,884.7 352.9,867.7 354.8,865.2ZM399.6,899.3 397.9,901.9 374.0,885.8 375.8,883.2ZM398.4,901.2 396.7,903.8 361.4,879.6 363.2,877.0ZM380.6,902.9 378.9,905.5 343.5,880.3 345.4,877.8ZM391.1,912.5 389.4,915.2 353.4,890.5 355.3,887.9ZM355.0,890.5 353.2,893.0 340.7,883.9 342.6,881.3ZM400.6,923.9 398.9,926.6 385.8,918.2 387.5,915.6ZM353.7,892.3 351.8,894.9 339.4,885.7 341.3,883.1ZM363.9,902.4 362.1,904.9 349.5,895.9 351.3,893.4ZM362.6,904.2 360.8,906.8 348.1,897.7 350.0,895.2ZM373.1,914.1 371.3,916.7 346.8,899.6 348.7,897.0ZM272.2,178.9 269.1,178.6 270.3,167.9 273.4,168.3ZM272.4,159.2 269.2,158.8 270.8,148.1 273.9,148.6ZM267.7,178.5 264.6,178.1 265.8,167.4 269.0,167.8ZM270.1,158.9 267.0,158.5 268.6,147.8 271.7,148.3ZM273.2,139.5 270.1,138.9 272.1,128.3 275.2,128.9ZM262.3,187.9 259.2,187.6 260.2,176.8 263.4,177.1ZM765.6,845.3 765.2,848.4 753.6,847.1 754.0,843.9ZM776.0,848.5 775.7,851.6 753.3,849.3 753.7,846.2ZM775.8,850.7 775.5,853.9 753.0,851.5 753.4,848.4ZM775.6,853.0 775.3,856.1 763.5,855.0 763.9,851.9ZM722.1,846.0 721.6,849.1 699.3,844.8 700.0,841.7ZM711.1,846.2 710.5,849.3 698.8,847.0 699.5,843.9ZM563.9,1009.0 562.8,1012.0 548.1,1006.8 549.2,1003.8ZM534.7,1005.6 533.5,1008.6 518.9,1002.8 520.1,999.9ZM533.9,1007.7 532.7,1010.7 518.0,1004.9 519.2,1002.0ZM601.5,1032.7 600.7,1035.7 585.5,1031.2 586.4,1028.2ZM614.9,1038.7 614.1,1041.7 598.8,1037.5 599.6,1034.5ZM628.4,1044.5 627.6,1047.6 598.1,1039.7 599.0,1036.6ZM613.1,1045.2 612.3,1048.3 596.9,1044.0 597.8,1041.0ZM502.8,1007.3 501.5,1010.2 486.8,1003.8 488.1,1001.0ZM597.2,1047.8 596.3,1050.8 580.9,1046.3 581.8,1043.3ZM596.6,1050.0 595.7,1053.0 580.2,1048.4 581.1,1045.4ZM457.0,1001.3 455.6,1004.2 441.0,996.9 442.5,994.1ZM442.7,996.7 441.2,999.5 413.7,984.9 415.2,982.1ZM455.0,1005.4 453.6,1008.2 439.0,1000.9 440.4,998.1ZM454.0,1007.4 452.6,1010.2 438.0,1002.9 439.4,1000.1ZM427.4,993.8 425.9,996.6 411.5,988.8 413.0,986.0ZM453.0,1009.4 451.7,1012.2 410.4,990.8 411.9,988.0ZM452.1,1011.4 450.7,1014.3 435.9,1006.9 437.4,1004.1ZM412.0,990.6 410.5,993.4 396.2,985.3 397.8,982.6ZM451.1,1013.5 449.7,1016.3 434.9,1008.9 436.3,1006.1ZM424.2,999.8 422.7,1002.6 408.2,994.7 409.7,991.9ZM462.8,1024.0 461.4,1026.9 446.5,1019.7 447.8,1016.9ZM461.8,1026.1 460.5,1028.9 445.5,1021.7 446.9,1018.9ZM460.9,1028.1 459.5,1030.9 444.5,1023.8 445.9,1020.9ZM472.9,1038.5 471.6,1041.4 456.4,1034.4 457.7,1031.6ZM472.0,1040.6 470.7,1043.4 455.4,1036.5 456.8,1033.6ZM607.4,964.0 606.4,967.0 592.6,962.7 593.6,959.7ZM606.1,968.3 605.1,971.3 591.2,966.9 592.2,963.9ZM605.4,970.5 604.5,973.5 590.5,969.1 591.5,966.1ZM931.4,814.8 931.9,817.9 890.2,823.8 889.9,820.6ZM962.0,810.8 962.7,813.9 890.4,826.0 890.1,822.9ZM973.1,812.8 973.8,815.9 962.8,818.5 962.1,815.4ZM974.1,817.2 974.9,820.2 963.8,822.9 963.1,819.8ZM943.6,824.0 944.2,827.1 932.9,829.1 932.4,826.0ZM964.5,821.8 965.2,824.9 954.0,827.4 953.3,824.3ZM944.0,826.2 944.6,829.3 933.3,831.4 932.8,828.3ZM956.6,835.1 957.3,838.2 945.8,840.5 945.2,837.4Z"/>
<path fill="#66c0dc" stroke="#66c0dc" stroke-width="0.6" shape-rendering="crispEdges" d="M607.6,691.8 606.3,694.6 597.6,690.3 599.0,687.5ZM606.1,716.0 604.8,718.8 595.6,714.5 597.0,711.6ZM605.2,718.0 603.8,720.9 594.7,716.5 596.0,713.7ZM609.9,730.1 608.7,733.0 599.3,728.7 600.6,725.8ZM592.9,722.1 591.5,725.0 582.2,720.4 583.7,717.5ZM609.0,732.1 607.7,735.0 598.3,730.7 599.6,727.9ZM590.9,726.2 589.5,729.0 571.7,719.9 573.2,717.2ZM607.2,736.2 605.9,739.1 596.4,734.8 597.7,731.9ZM572.9,719.6 571.4,722.3 562.2,717.3 563.8,714.6ZM606.3,738.3 605.0,741.2 595.4,736.8 596.8,734.0ZM571.9,721.5 570.4,724.3 561.1,719.3 562.7,716.6ZM570.8,723.5 569.3,726.3 560.1,721.3 561.6,718.5ZM569.7,725.5 568.3,728.3 559.0,723.2 560.5,720.5ZM593.8,742.5 592.4,745.4 582.8,740.8 584.2,737.9ZM567.6,729.5 566.2,732.3 556.8,727.2 558.3,724.4ZM592.8,744.5 591.5,747.4 581.8,742.8 583.2,739.9ZM574.2,738.0 572.8,740.8 546.0,726.3 547.6,723.5ZM547.2,725.9 545.7,728.7 536.4,723.2 538.0,720.5ZM546.1,727.9 544.5,730.6 535.2,725.1 536.8,722.4ZM580.1,748.4 578.7,751.3 560.1,741.8 561.6,739.0ZM545.0,729.8 543.4,732.6 534.0,727.0 535.7,724.3ZM588.1,754.7 586.7,757.6 576.9,752.9 578.3,750.1ZM596.2,760.9 595.0,763.8 585.0,759.2 586.3,756.4ZM595.3,763.0 594.0,765.9 584.0,761.3 585.3,758.4ZM585.2,760.9 583.9,763.7 573.9,759.0 575.3,756.1ZM567.1,752.0 565.7,754.8 555.9,749.7 557.3,746.9ZM584.3,762.9 583.0,765.8 554.8,751.7 556.3,748.9ZM583.3,764.9 582.0,767.8 553.7,753.7 555.2,750.9ZM528.3,738.3 526.7,741.0 517.2,735.1 518.8,732.5ZM572.2,764.6 570.8,767.5 560.7,762.4 562.2,759.6ZM553.9,755.3 552.5,758.1 542.6,752.8 544.1,750.0ZM580.5,771.1 579.2,773.9 569.0,769.1 570.4,766.2ZM526.0,742.2 524.4,744.9 514.8,739.0 516.5,736.3ZM570.2,768.7 568.8,771.5 558.7,766.4 560.1,763.6ZM523.7,746.0 522.1,748.7 512.4,742.8 514.1,740.1ZM577.6,777.2 576.3,780.0 566.0,775.1 567.4,772.3ZM558.9,768.1 557.5,770.9 547.4,765.6 548.9,762.8ZM522.5,747.9 520.9,750.6 511.2,744.7 512.9,742.0ZM576.7,779.2 575.4,782.1 565.0,777.1 566.4,774.3ZM512.5,744.4 510.8,747.1 492.4,735.1 494.2,732.5ZM511.3,746.3 509.6,749.0 499.9,742.8 501.7,740.2ZM554.9,776.1 553.4,778.9 543.2,773.6 544.6,770.8ZM514.4,761.5 512.8,764.2 502.8,758.0 504.5,755.4ZM522.5,768.8 521.0,771.5 510.8,765.6 512.4,762.9ZM539.2,783.2 537.7,785.9 517.8,774.9 519.4,772.2ZM538.1,785.1 536.6,787.9 526.2,782.3 527.7,779.5ZM508.7,771.1 507.0,773.8 496.9,767.6 498.5,764.9ZM536.0,789.1 534.5,791.9 505.0,775.2 506.6,772.5ZM515.8,780.5 514.2,783.2 503.9,777.1 505.5,774.4ZM513.5,784.4 512.0,787.1 501.5,781.0 503.2,778.3ZM529.7,801.0 528.2,803.8 517.4,798.0 519.0,795.2ZM481.6,772.8 479.9,775.5 469.7,768.7 471.5,766.1ZM528.6,803.0 527.1,805.8 516.4,800.0 517.9,797.2ZM471.1,768.5 469.3,771.1 459.2,764.2 461.0,761.6ZM459.3,765.9 457.5,768.5 447.4,761.3 449.3,758.8ZM545.6,819.2 544.2,822.1 533.1,816.5 534.6,813.7ZM447.5,763.0 445.6,765.6 435.6,758.2 437.5,755.6ZM444.8,766.6 443.0,769.2 423.8,754.8 425.8,752.3ZM521.2,816.9 519.8,819.7 508.7,813.7 510.2,811.0ZM536.7,837.4 535.4,840.3 523.9,834.6 525.3,831.8ZM416.9,765.3 415.0,767.8 404.9,759.8 406.9,757.4ZM551.5,861.7 550.2,864.6 538.3,859.1 539.6,856.3ZM550.6,863.7 549.3,866.6 537.3,861.2 538.7,858.3ZM390.8,779.1 388.8,781.5 378.5,773.0 380.5,770.6ZM369.2,766.8 367.1,769.2 357.0,760.3 359.2,758.0ZM467.0,840.6 465.4,843.3 433.2,822.8 435.0,820.2ZM465.8,842.5 464.2,845.2 452.7,838.1 454.4,835.5ZM434.7,822.7 432.9,825.3 421.8,817.6 423.6,815.0ZM355.5,763.7 353.4,766.1 343.4,756.9 345.5,754.6ZM354.0,765.4 351.9,767.8 341.8,758.6 344.0,756.3ZM361.8,775.3 359.7,777.7 340.3,760.2 342.5,757.9ZM429.6,830.1 427.9,832.7 416.6,825.0 418.4,822.4ZM360.3,777.0 358.3,779.4 329.7,753.2 331.9,751.0ZM492.8,870.6 491.3,873.4 468.3,860.6 469.9,857.9ZM407.8,817.6 406.0,820.2 395.0,812.0 396.9,809.5ZM502.8,878.4 501.4,881.2 478.1,868.8 479.7,866.1ZM427.1,833.9 425.4,836.5 403.7,821.3 405.6,818.8ZM425.9,835.7 424.1,838.3 382.2,807.9 384.2,805.4ZM346.5,773.8 344.3,776.1 334.2,766.8 336.3,764.5ZM546.6,903.7 545.4,906.6 532.7,901.1 534.0,898.2ZM489.6,876.6 488.1,879.4 475.9,872.7 477.5,870.0ZM424.6,837.6 422.8,840.2 411.4,832.4 413.2,829.8ZM344.9,775.5 342.8,777.8 332.6,768.4 334.8,766.1ZM511.1,890.0 509.8,892.9 497.3,886.7 498.7,883.9ZM477.4,872.5 475.9,875.3 452.8,862.0 454.4,859.3ZM423.3,839.5 421.6,842.1 410.1,834.2 411.9,831.6ZM343.4,777.1 341.3,779.5 331.1,770.1 333.2,767.8ZM533.2,902.8 531.9,905.7 519.2,899.9 520.6,897.0ZM476.3,874.5 474.8,877.2 451.6,863.9 453.3,861.2ZM422.1,841.3 420.3,843.9 408.8,836.0 410.6,833.5ZM509.2,894.1 507.8,896.9 472.7,878.6 474.2,875.9ZM340.4,780.5 338.3,782.8 328.0,773.4 330.2,771.1ZM508.2,896.1 506.8,899.0 482.9,886.7 484.3,884.0ZM450.8,867.6 449.2,870.3 437.2,862.9 438.9,860.3ZM387.0,824.6 385.1,827.1 373.9,818.5 375.8,816.1ZM337.4,783.8 335.3,786.2 324.9,776.7 327.1,774.4ZM529.6,911.0 528.3,913.9 515.4,908.1 516.8,905.2ZM449.6,869.5 448.0,872.2 436.0,864.8 437.7,862.2ZM396.0,834.0 394.1,836.6 382.8,828.2 384.7,825.7ZM516.9,907.7 515.6,910.6 502.8,904.5 504.2,901.7ZM384.1,850.4 382.2,853.0 370.6,844.4 372.5,841.8ZM393.6,859.9 391.7,862.5 379.9,854.1 381.8,851.5ZM372.1,844.4 370.2,846.9 358.6,838.0 360.6,835.6ZM388.4,867.3 386.6,869.9 374.6,861.4 376.5,858.8ZM345.5,835.1 343.5,837.5 332.2,828.1 334.2,825.7ZM324.9,817.8 322.9,820.2 311.8,810.4 313.9,808.1ZM398.2,876.8 396.4,879.4 384.3,871.0 386.1,868.5ZM396.9,878.6 395.2,881.3 383.0,872.9 384.8,870.3ZM332.2,830.0 330.2,832.4 319.0,822.8 321.0,820.4ZM418.4,895.2 416.7,897.9 404.2,889.9 405.9,887.3ZM395.7,880.5 393.9,883.1 381.7,874.7 383.5,872.1ZM405.8,889.9 404.1,892.5 391.6,884.3 393.4,881.7ZM389.4,889.8 387.6,892.5 375.2,883.9 377.1,881.4ZM381.9,901.0 380.1,903.7 367.5,895.0 369.3,892.4ZM404.1,918.2 402.5,920.8 377.8,904.8 379.5,902.2ZM356.3,888.7 354.5,891.2 342.1,882.1 344.0,879.6ZM273.3,169.2 270.2,168.8 271.6,158.2 274.7,158.6ZM270.0,178.7 266.8,178.4 268.1,167.7 271.2,168.1ZM268.9,168.7 265.7,168.3 267.1,157.6 270.3,158.0ZM721.7,848.2 721.2,851.3 709.5,849.1 710.1,846.1ZM563.1,1011.2 562.1,1014.1 547.3,1008.9 548.4,1006.0ZM589.0,1024.3 588.1,1027.3 573.1,1022.6 574.0,1019.6ZM547.4,1012.8 546.3,1015.7 531.5,1010.2 532.6,1007.2ZM519.6,1004.5 518.4,1007.5 503.8,1001.4 505.0,998.5ZM600.9,1034.8 600.0,1037.9 584.8,1033.4 585.8,1030.3ZM518.8,1006.6 517.6,1009.5 502.9,1003.5 504.2,1000.6ZM600.3,1037.0 599.4,1040.0 584.2,1035.5 585.1,1032.5ZM599.7,1039.2 598.8,1042.2 583.5,1037.7 584.4,1034.6ZM599.1,1041.3 598.2,1044.4 582.9,1039.8 583.8,1036.8ZM500.1,1013.5 498.9,1016.4 484.1,1010.0 485.4,1007.1ZM473.2,1001.6 471.9,1004.4 457.3,997.5 458.7,994.7ZM485.7,1009.7 484.4,1012.6 469.7,1005.9 471.0,1003.0ZM580.5,1052.3 579.5,1055.3 564.0,1050.4 565.0,1047.4ZM456.0,1003.3 454.6,1006.2 440.0,998.9 441.5,996.1ZM438.6,1004.7 437.2,1007.5 409.3,992.7 410.8,990.0ZM463.7,1022.0 462.4,1024.8 420.4,1003.9 421.9,1001.1ZM483.4,1052.9 482.2,1055.8 466.7,1049.0 468.0,1046.2ZM608.0,961.9 607.1,964.9 593.3,960.5 594.3,957.5ZM972.5,810.6 973.3,813.7 962.3,816.3 961.6,813.3ZM952.4,815.3 953.1,818.4 942.0,820.6 941.4,817.5ZM952.9,817.5 953.5,820.6 942.4,822.8 941.8,819.7ZM973.6,815.0 974.4,818.0 963.3,820.7 962.6,817.6ZM953.3,819.7 954.0,822.8 942.8,825.0 942.2,821.9ZM953.8,821.9 954.5,825.0 943.2,827.2 942.6,824.2ZM954.3,824.1 954.9,827.2 943.7,829.5 943.1,826.4Z"/>
<path fill="#62d4c4" stroke="#62d4c4" stroke-width="0.6" shape-rendering="crispEdges" d="M606.7,693.8 605.3,696.6 596.6,692.3 598.0,689.5ZM605.7,695.8 604.3,698.7 595.5,694.3 597.0,691.5ZM609.0,709.9 607.6,712.7 598.6,708.4 600.0,705.6ZM608.0,711.9 606.7,714.8 597.6,710.4 599.0,707.6ZM604.2,720.1 602.9,722.9 593.7,718.5 595.1,715.7ZM603.3,722.1 601.9,725.0 592.7,720.5 594.1,717.7ZM600.4,728.2 599.1,731.1 589.7,726.6 591.1,723.8ZM599.5,730.3 598.1,733.1 588.7,728.6 590.1,725.8ZM605.4,740.4 604.1,743.2 594.5,738.9 595.8,736.0ZM587.9,732.2 586.6,735.1 568.5,725.9 570.0,723.1ZM604.5,742.4 603.2,745.3 567.5,727.9 569.0,725.1ZM586.0,736.3 584.6,739.1 566.4,729.9 567.9,727.1ZM566.6,731.5 565.1,734.3 547.1,724.3 548.7,721.6ZM573.2,740.0 571.8,742.8 544.9,728.2 546.5,725.5ZM563.4,737.4 561.9,740.2 552.4,735.0 553.9,732.3ZM562.4,739.4 560.9,742.2 551.3,737.0 552.8,734.3ZM579.1,750.5 577.7,753.3 559.0,743.8 560.5,741.0ZM569.1,748.0 567.7,750.8 558.0,745.8 559.4,743.0ZM542.7,733.7 541.2,736.5 531.7,730.9 533.3,728.2ZM586.2,758.8 584.9,761.7 556.9,747.7 558.4,745.0ZM541.6,735.7 540.1,738.4 530.6,732.8 532.2,730.1ZM540.5,737.6 538.9,740.3 529.4,734.7 531.0,732.0ZM557.1,749.4 555.6,752.2 545.9,746.9 547.4,744.1ZM539.4,739.6 537.8,742.3 528.2,736.7 529.9,734.0ZM556.0,751.4 554.6,754.1 544.8,748.8 546.3,746.1ZM555.0,753.3 553.5,756.1 543.7,750.8 545.2,748.0ZM571.2,766.6 569.8,769.5 541.5,754.7 543.0,752.0ZM561.0,764.1 559.5,766.9 549.5,761.6 551.0,758.9ZM560.0,766.1 558.5,768.9 548.4,763.6 549.9,760.9ZM548.7,765.3 547.2,768.1 537.1,762.6 538.6,759.8ZM530.4,755.2 528.8,757.9 510.0,746.6 511.7,743.9ZM547.6,767.3 546.1,770.0 536.0,764.6 537.5,761.8ZM519.1,753.7 517.5,756.4 507.6,750.4 509.3,747.7ZM515.6,759.5 514.0,762.2 504.0,756.1 505.7,753.5ZM540.2,781.2 538.7,784.0 528.4,778.3 529.9,775.6ZM537.1,787.1 535.6,789.9 525.1,784.2 526.6,781.5ZM507.5,773.0 505.9,775.7 486.4,763.6 488.2,760.9ZM497.0,769.2 495.3,771.9 485.2,765.5 486.9,762.8ZM505.2,776.9 503.6,779.6 484.0,767.4 485.7,764.7ZM494.6,773.1 493.0,775.7 482.8,769.2 484.5,766.6ZM521.0,793.8 519.4,796.5 508.8,790.5 510.4,787.8ZM500.6,784.6 498.9,787.3 479.1,774.9 480.8,772.3ZM527.6,805.0 526.1,807.8 515.3,801.9 516.8,799.2ZM469.8,770.4 468.1,773.0 457.9,766.0 459.7,763.5ZM526.5,807.0 525.0,809.8 514.2,803.9 515.7,801.1ZM535.5,814.2 534.1,817.0 523.1,811.3 524.5,808.5ZM458.0,767.7 456.2,770.3 446.1,763.1 448.0,760.6ZM523.3,813.0 521.9,815.8 510.9,809.8 512.4,807.0ZM493.6,796.2 492.0,798.9 481.4,792.4 483.0,789.7ZM522.3,815.0 520.8,817.7 509.8,811.8 511.3,809.0ZM531.4,822.2 530.0,825.0 518.8,819.2 520.3,816.5ZM520.2,818.9 518.7,821.7 507.6,815.7 509.1,812.9ZM459.8,785.3 458.0,787.9 447.6,780.8 449.4,778.2ZM419.7,761.8 417.7,764.3 407.8,756.3 409.7,753.9ZM418.3,763.6 416.3,766.0 406.3,758.1 408.3,755.6ZM426.2,772.4 424.3,775.0 414.1,767.2 416.1,764.7ZM424.8,774.2 422.9,776.8 403.5,761.6 405.5,759.1ZM414.1,768.9 412.2,771.4 402.1,763.3 404.1,760.9ZM412.7,770.7 410.8,773.1 400.7,765.1 402.7,762.6ZM489.9,825.3 488.4,828.1 457.0,808.8 458.7,806.2ZM405.8,779.5 403.9,782.0 393.6,773.8 395.6,771.4ZM404.4,781.3 402.5,783.8 392.2,775.6 394.2,773.1ZM393.6,775.6 391.6,778.0 381.4,769.6 383.4,767.2ZM546.9,872.0 545.6,874.8 533.5,869.3 534.9,866.5ZM392.2,777.3 390.2,779.8 379.9,771.3 382.0,768.9ZM448.6,823.8 446.9,826.4 415.7,805.0 417.5,802.4ZM447.4,825.7 445.7,828.3 424.3,813.9 426.1,811.4ZM464.7,844.4 463.1,847.1 451.5,840.0 453.2,837.4ZM423.2,817.5 421.4,820.1 410.4,812.2 412.2,809.7ZM364.7,771.9 362.7,774.3 352.5,765.3 354.6,763.0ZM485.0,858.7 483.5,861.5 460.9,848.5 462.6,845.8ZM432.1,826.4 430.4,829.0 419.2,821.3 421.0,818.7ZM363.3,773.6 361.2,776.0 351.0,767.0 353.1,764.7ZM539.6,888.4 538.3,891.3 525.9,885.6 527.2,882.8ZM483.9,860.7 482.4,863.5 459.8,850.4 461.4,847.7ZM420.6,821.2 418.8,823.8 397.7,808.4 399.6,805.9ZM482.8,862.7 481.3,865.4 469.4,858.7 471.0,856.0ZM503.9,876.4 502.4,879.2 490.3,872.8 491.7,870.1ZM368.4,786.9 366.3,789.3 355.9,780.4 358.0,778.0ZM480.7,866.6 479.1,869.4 456.3,856.2 457.9,853.5ZM406.5,819.5 404.7,822.0 393.6,813.8 395.5,811.3ZM501.8,880.4 500.4,883.2 477.0,870.8 478.6,868.0ZM355.9,782.1 353.8,784.5 343.5,775.4 345.6,773.0ZM500.8,882.4 499.4,885.2 487.1,878.8 488.6,876.0ZM478.5,870.5 477.0,873.3 454.0,860.0 455.6,857.3ZM364.0,792.0 362.0,794.4 342.0,777.0 344.1,774.7ZM382.3,809.7 380.4,812.2 369.5,803.5 371.5,801.1ZM521.6,897.5 520.3,900.4 507.7,894.4 509.1,891.6ZM380.9,811.5 379.0,813.9 368.1,805.3 370.1,802.8ZM341.9,778.8 339.8,781.2 329.6,771.7 331.7,769.4ZM532.3,904.9 531.0,907.7 518.3,901.9 519.6,899.1ZM431.5,850.2 429.8,852.9 407.5,837.9 409.4,835.3ZM419.6,845.1 417.8,847.7 406.3,839.7 408.1,837.1ZM530.5,909.0 529.2,911.8 516.4,906.0 517.7,903.2ZM517.8,905.7 516.5,908.6 503.8,902.5 505.1,899.6ZM406.4,841.5 404.6,844.1 393.1,835.9 395.0,833.3ZM385.6,826.4 383.7,828.9 372.5,820.3 374.5,817.8ZM345.6,794.0 343.5,796.4 332.9,787.1 335.0,784.7ZM448.5,871.4 446.9,874.1 434.8,866.7 436.5,864.1ZM394.6,835.9 392.8,838.4 371.1,822.1 373.1,819.6ZM447.3,873.4 445.7,876.1 433.6,868.6 435.3,866.0ZM393.3,837.7 391.5,840.2 369.7,823.9 371.7,821.4ZM390.7,841.3 388.8,843.9 377.3,835.4 379.2,832.9ZM397.4,854.4 395.6,857.0 383.9,848.6 385.7,846.1ZM396.1,856.3 394.3,858.8 371.9,842.6 373.8,840.0ZM373.4,842.6 371.5,845.1 360.0,836.3 362.0,833.8ZM425.6,883.8 423.9,886.5 411.6,878.6 413.3,876.0ZM424.4,885.7 422.7,888.4 410.4,880.5 412.1,877.9ZM423.2,887.6 421.5,890.3 409.1,882.4 410.9,879.8ZM346.9,833.3 344.9,835.8 333.6,826.4 335.6,824.0ZM326.4,816.1 324.3,818.5 313.3,808.8 315.5,806.4ZM422.0,889.5 420.3,892.2 407.9,884.3 409.6,881.6ZM420.8,891.4 419.1,894.1 406.7,886.2 408.4,883.5ZM333.7,828.2 331.7,830.7 320.4,821.1 322.5,818.7ZM419.6,893.3 417.9,896.0 405.5,888.1 407.2,885.4ZM320.5,822.9 318.4,825.3 307.3,815.5 309.4,813.1ZM393.5,908.7 391.8,911.4 379.0,902.9 380.8,900.3ZM271.1,168.9 268.0,168.6 269.4,157.9 272.5,158.3ZM576.0,1017.8 575.0,1020.8 560.1,1015.8 561.2,1012.9ZM548.1,1010.6 547.0,1013.6 532.3,1008.1 533.4,1005.1ZM560.9,1017.6 559.9,1020.5 545.0,1015.3 546.1,1012.3ZM513.7,1019.1 512.5,1022.1 497.6,1015.9 498.9,1013.0ZM486.6,1007.7 485.3,1010.5 470.7,1003.9 472.0,1001.0ZM499.2,1015.6 498.0,1018.5 483.2,1012.0 484.5,1009.2ZM484.8,1011.8 483.5,1014.7 468.8,1007.9 470.1,1005.1ZM581.1,1050.1 580.2,1053.1 564.7,1048.2 565.7,1045.2ZM566.3,1047.8 565.3,1050.8 549.8,1045.6 550.9,1042.6ZM466.6,1015.9 465.2,1018.7 450.4,1011.6 451.8,1008.8ZM465.6,1017.9 464.3,1020.7 449.4,1013.7 450.8,1010.8ZM548.5,1053.7 547.5,1056.7 531.9,1051.2 533.0,1048.2ZM464.7,1019.9 463.3,1022.8 448.4,1015.7 449.8,1012.9ZM437.6,1006.7 436.1,1009.5 421.5,1001.9 423.0,999.1ZM533.5,1050.8 532.5,1053.8 516.9,1048.0 518.1,1045.0ZM477.5,1028.2 476.2,1031.1 461.1,1024.2 462.5,1021.4ZM532.8,1052.9 531.7,1055.9 460.2,1026.3 461.5,1023.4ZM473.8,1036.5 472.5,1039.3 457.3,1032.4 458.7,1029.5ZM962.5,813.0 963.2,816.1 952.1,818.6 951.5,815.5ZM963.0,815.2 963.7,818.3 952.6,820.8 951.9,817.7ZM963.5,817.4 964.2,820.5 953.1,823.0 952.4,819.9ZM964.0,819.6 964.7,822.7 953.5,825.2 952.9,822.1Z"/>
<path fill="#40d070" stroke="#40d070" stroke-width="0.6" shape-rendering="crispEdges" d="M602.3,724.1 601.0,727.0 591.7,722.6 593.1,719.7ZM601.4,726.2 600.0,729.0 590.7,724.6 592.1,721.8ZM598.5,732.3 597.2,735.2 579.2,726.4 580.6,723.6ZM597.6,734.3 596.2,737.2 569.6,723.9 571.1,721.1ZM596.6,736.4 595.3,739.2 585.8,734.7 587.1,731.9ZM585.0,738.3 583.6,741.2 565.4,731.9 566.9,729.1ZM584.0,740.3 582.6,743.2 564.3,733.8 565.8,731.1ZM554.7,732.7 553.2,735.5 543.8,730.1 545.3,727.4ZM553.6,734.7 552.1,737.5 542.6,732.1 544.2,729.4ZM543.9,731.8 542.3,734.5 532.9,728.9 534.5,726.2ZM587.1,756.8 585.8,759.6 566.9,750.4 568.3,747.6ZM560.3,743.4 558.8,746.2 549.1,741.0 550.7,738.2ZM559.2,745.4 557.7,748.2 539.2,737.9 540.8,735.2ZM558.1,747.4 556.7,750.2 546.9,744.9 548.5,742.1ZM538.3,741.5 536.7,744.2 527.1,738.6 528.7,735.9ZM533.8,749.3 532.2,752.0 522.4,746.3 524.1,743.6ZM531.5,753.2 529.9,755.9 520.1,750.2 521.7,747.5ZM539.5,760.3 538.0,763.1 528.0,757.4 529.6,754.7ZM538.4,762.3 536.9,765.0 508.8,748.5 510.5,745.8ZM546.5,769.2 545.1,772.0 534.9,766.5 536.5,763.8ZM517.9,755.7 516.3,758.4 506.4,752.3 508.1,749.6ZM544.4,773.2 543.0,776.0 532.7,770.5 534.3,767.7ZM516.8,757.6 515.1,760.3 505.2,754.2 506.9,751.6ZM523.6,766.9 522.1,769.6 512.0,763.6 513.6,760.9ZM531.9,774.1 530.3,776.8 520.1,771.0 521.7,768.3ZM530.8,776.0 529.2,778.8 519.0,773.0 520.5,770.3ZM506.3,775.0 504.7,777.7 494.5,771.4 496.2,768.7ZM504.0,778.8 502.4,781.5 492.1,775.2 493.8,772.5ZM512.4,786.4 510.8,789.1 500.4,782.9 502.0,780.2ZM493.4,775.0 491.8,777.6 481.5,771.1 483.2,768.5ZM492.2,776.9 490.6,779.6 480.3,773.0 482.0,770.4ZM499.4,786.5 497.8,789.2 477.8,776.8 479.6,774.1ZM517.7,799.7 516.2,802.4 505.5,796.4 507.0,793.6ZM498.2,788.5 496.6,791.2 476.6,778.7 478.3,776.0ZM516.6,801.6 515.1,804.4 504.3,798.3 505.9,795.6ZM525.5,809.0 524.0,811.8 503.2,800.3 504.8,797.5ZM534.5,816.2 533.0,819.0 512.0,807.8 513.5,805.1ZM494.8,794.3 493.2,797.0 472.9,784.3 474.7,781.7ZM513.3,807.5 511.8,810.3 491.1,798.3 492.7,795.6ZM483.9,790.2 482.2,792.9 462.2,779.9 463.9,777.3ZM512.2,809.5 510.7,812.3 499.8,806.1 501.4,803.4ZM473.1,786.0 471.4,788.7 460.9,781.8 462.7,779.1ZM462.3,781.6 460.5,784.2 422.4,756.5 424.4,754.0ZM530.4,824.2 529.0,827.0 517.8,821.2 519.2,818.4ZM461.0,783.5 459.3,786.1 448.9,778.9 450.7,776.4ZM469.4,791.7 467.7,794.3 457.1,787.3 458.9,784.7ZM450.3,778.8 448.5,781.4 438.2,774.0 440.0,771.5ZM431.6,765.3 429.7,767.8 419.7,760.1 421.6,757.6ZM465.7,797.4 464.0,800.0 443.7,786.3 445.5,783.7ZM535.8,839.5 534.4,842.3 522.9,836.6 524.3,833.8ZM454.8,792.8 453.0,795.4 442.4,788.1 444.2,785.6ZM435.6,779.4 433.7,781.9 423.4,774.3 425.3,771.8ZM434.3,781.2 432.4,783.8 422.1,776.1 424.0,773.6ZM480.9,817.4 479.3,820.1 458.2,807.0 459.9,804.3ZM500.3,831.2 498.7,833.9 487.4,827.5 489.0,824.8ZM488.8,827.3 487.2,830.0 476.0,823.4 477.6,820.7ZM410.0,774.2 408.0,776.7 397.8,768.6 399.8,766.1ZM519.2,846.3 517.7,849.1 506.1,843.1 507.6,840.3ZM539.7,858.8 538.3,861.6 505.1,845.0 506.6,842.3ZM549.6,865.8 548.4,868.7 536.4,863.2 537.7,860.4ZM494.8,841.0 493.3,843.8 471.4,831.1 473.0,828.4ZM547.8,869.9 546.5,872.8 534.5,867.3 535.8,864.4ZM493.7,843.0 492.2,845.7 470.2,833.0 471.8,830.3ZM403.1,783.1 401.1,785.6 390.7,777.3 392.7,774.9ZM482.1,839.0 480.5,841.7 458.7,828.6 460.3,825.9ZM401.7,784.9 399.7,787.3 389.3,779.1 391.3,776.6ZM481.0,840.9 479.4,843.7 457.5,830.5 459.1,827.8ZM439.7,815.2 437.9,817.8 417.0,803.1 418.8,800.6ZM400.3,786.6 398.4,789.1 387.9,780.8 389.9,778.4ZM418.4,803.1 416.6,805.6 386.5,782.6 388.5,780.1ZM379.9,773.1 377.9,775.5 367.7,766.8 369.8,764.4ZM478.7,844.8 477.1,847.6 455.1,834.3 456.8,831.7ZM417.1,804.9 415.2,807.4 394.7,792.0 396.6,789.5ZM378.5,774.8 376.5,777.2 366.2,768.5 368.3,766.1ZM477.6,846.8 476.0,849.5 464.4,842.7 466.0,840.0ZM435.9,820.8 434.1,823.4 423.0,815.8 424.9,813.2ZM377.0,776.5 375.0,778.9 364.8,770.2 366.8,767.8ZM542.3,882.2 541.1,885.1 528.8,879.5 530.1,876.7ZM375.6,778.2 373.6,780.6 363.3,771.9 365.4,769.5ZM541.4,884.3 540.1,887.2 527.8,881.6 529.1,878.7ZM475.3,850.7 473.8,853.4 462.1,846.5 463.7,843.8ZM413.1,810.4 411.3,812.9 390.5,797.3 392.5,794.8ZM540.5,886.4 539.2,889.2 526.9,883.6 528.2,880.7ZM463.5,846.4 461.9,849.1 429.4,828.4 431.2,825.8ZM421.9,819.4 420.1,822.0 399.0,806.6 400.9,804.1ZM494.9,866.6 493.4,869.4 481.4,862.9 482.9,860.2ZM462.4,848.3 460.7,851.0 449.1,843.9 450.8,841.2ZM430.9,828.3 429.1,830.9 417.9,823.1 419.7,820.6ZM538.7,890.5 537.4,893.3 525.0,887.7 526.3,884.8ZM504.9,874.4 503.5,877.2 480.3,864.9 481.8,862.1ZM399.1,808.4 397.2,810.9 386.4,802.6 388.3,800.1ZM369.8,785.1 367.8,787.5 357.4,778.7 359.5,776.3ZM470.8,858.5 469.3,861.2 457.4,854.2 459.1,851.6ZM438.8,838.9 437.1,841.5 425.7,834.0 427.4,831.3ZM536.9,894.6 535.6,897.5 523.0,891.7 524.4,888.9ZM396.4,812.0 394.5,814.5 383.6,806.1 385.5,803.7ZM366.9,788.6 364.9,791.0 354.4,782.0 356.5,779.7ZM479.6,868.6 478.0,871.3 455.1,858.1 456.8,855.4ZM436.4,842.7 434.7,845.3 423.1,837.7 424.9,835.1ZM365.5,790.3 363.5,792.7 353.0,783.7 355.0,781.4ZM456.6,857.9 455.0,860.6 421.9,839.6 423.6,836.9ZM383.7,807.9 381.7,810.4 361.1,793.7 363.1,791.3ZM534.1,900.7 532.8,903.6 520.2,897.9 521.5,895.0ZM455.4,859.9 453.8,862.6 442.0,855.3 443.6,852.6ZM433.9,846.4 432.2,849.1 420.6,841.4 422.4,838.8ZM372.4,801.8 370.4,804.3 340.5,778.7 342.6,776.4ZM454.3,861.8 452.6,864.5 419.4,843.3 421.1,840.7ZM371.0,803.6 369.0,806.0 358.2,797.1 360.3,794.7ZM520.7,899.6 519.4,902.4 506.7,896.4 508.1,893.6ZM453.1,863.7 451.5,866.4 428.8,852.2 430.5,849.6ZM379.5,813.2 377.6,815.7 337.5,782.0 339.6,779.7ZM531.4,906.9 530.1,909.8 505.7,898.4 507.1,895.6ZM430.2,852.1 428.5,854.7 416.8,847.0 418.6,844.4ZM348.5,790.6 346.5,793.0 335.9,783.7 338.1,781.4ZM518.8,903.7 517.5,906.5 504.8,900.5 506.1,897.6ZM439.8,860.9 438.2,863.6 426.3,856.0 428.0,853.4ZM347.0,792.3 345.0,794.7 334.4,785.4 336.6,783.0ZM438.7,862.8 437.0,865.5 425.1,857.9 426.8,855.2ZM437.5,864.7 435.8,867.4 423.9,859.8 425.6,857.1ZM405.2,843.3 403.3,845.9 391.8,837.7 393.7,835.2ZM344.1,795.7 342.0,798.1 331.4,788.7 333.5,786.4ZM392.0,839.5 390.1,842.1 368.4,825.6 370.3,823.1ZM431.5,874.2 429.8,876.9 417.7,869.2 419.4,866.6ZM386.7,846.8 384.9,849.3 373.3,840.8 375.2,838.2ZM429.1,878.1 427.5,880.7 415.3,873.0 417.0,870.3ZM394.8,858.1 393.0,860.7 381.2,852.3 383.1,849.7ZM414.3,876.7 412.6,879.3 400.5,871.2 402.2,868.6ZM360.2,838.1 358.2,840.6 346.8,831.5 348.8,829.0ZM402.0,871.2 400.2,873.8 388.2,865.5 390.0,862.9ZM348.3,831.6 346.3,834.0 335.1,824.7 337.1,822.3ZM400.7,873.0 399.0,875.7 386.9,867.4 388.7,864.8ZM399.5,874.9 397.7,877.5 385.6,869.2 387.4,866.6ZM335.1,826.5 333.1,828.9 321.9,819.4 324.0,817.0ZM409.4,884.2 407.7,886.8 395.4,878.7 397.2,876.1ZM408.2,886.1 406.5,888.7 394.2,880.6 395.9,878.0ZM407.0,888.0 405.3,890.6 392.9,882.4 394.7,879.8ZM562.4,1013.3 561.4,1016.3 533.1,1006.0 534.2,1003.0ZM575.3,1020.0 574.3,1023.0 545.8,1013.1 546.9,1010.2ZM588.3,1026.4 587.4,1029.4 558.7,1020.1 559.7,1017.1ZM587.7,1028.6 586.8,1031.6 571.7,1026.8 572.6,1023.8ZM533.1,1009.8 531.9,1012.8 517.2,1007.0 518.4,1004.0ZM587.0,1030.7 586.1,1033.7 571.0,1029.0 571.9,1026.0ZM586.4,1032.9 585.5,1035.9 570.3,1031.1 571.2,1028.1ZM517.9,1008.7 516.7,1011.6 502.0,1005.5 503.3,1002.6ZM517.1,1010.8 515.9,1013.7 501.2,1007.6 502.4,1004.7ZM516.2,1012.9 515.1,1015.8 500.3,1009.7 501.5,1006.8ZM584.4,1039.3 583.5,1042.4 568.2,1037.5 569.2,1034.5ZM501.9,1009.4 500.6,1012.3 485.9,1005.9 487.2,1003.0ZM487.5,1005.6 486.3,1008.5 471.6,1001.8 472.9,999.0ZM583.1,1043.6 582.2,1046.7 566.8,1041.8 567.8,1038.8ZM582.4,1045.8 581.5,1048.8 566.1,1044.0 567.1,1041.0ZM581.8,1048.0 580.9,1051.0 565.4,1046.1 566.4,1043.1ZM498.4,1017.7 497.1,1020.6 482.3,1014.1 483.5,1011.2ZM567.0,1045.7 566.0,1048.7 550.6,1043.5 551.6,1040.5ZM525.0,1030.8 523.9,1033.8 508.8,1027.8 509.9,1024.9ZM497.5,1019.7 496.3,1022.6 454.4,1003.6 455.8,1000.7ZM552.2,1043.1 551.1,1046.1 494.1,1024.2 495.4,1021.3ZM537.4,1040.2 536.3,1043.2 493.2,1026.2 494.5,1023.4ZM480.2,1022.1 478.9,1024.9 464.0,1018.1 465.3,1015.3ZM535.1,1046.6 534.0,1049.6 504.5,1038.2 505.7,1035.3ZM479.3,1024.1 478.0,1027.0 463.0,1020.2 464.4,1017.3ZM534.3,1048.7 533.2,1051.7 517.8,1045.9 518.9,1042.9ZM478.4,1026.2 477.1,1029.1 462.1,1022.2 463.4,1019.3ZM519.4,1045.5 518.2,1048.5 502.8,1042.4 504.0,1039.5ZM491.3,1034.2 490.1,1037.1 474.9,1030.5 476.2,1027.7ZM517.8,1049.7 516.6,1052.7 459.2,1028.3 460.6,1025.5ZM517.0,1051.8 515.8,1054.8 500.3,1048.7 501.5,1045.8ZM487.0,1044.6 485.7,1047.5 470.3,1040.8 471.6,1037.9ZM486.1,1046.7 484.8,1049.6 469.4,1042.9 470.7,1040.0ZM485.2,1048.7 484.0,1051.6 468.5,1044.9 469.8,1042.0Z"/>
<path fill="#14c814" stroke="#14c814" stroke-width="0.6" shape-rendering="crispEdges" d="M581.4,724.0 579.9,726.8 570.7,721.9 572.1,719.1ZM561.3,741.4 559.8,744.2 550.2,739.0 551.7,736.2ZM551.5,738.6 549.9,741.4 540.4,736.0 542.0,733.3ZM549.3,742.6 547.8,745.3 538.1,739.9 539.7,737.2ZM548.2,744.5 546.7,747.3 537.0,741.8 538.6,739.1ZM547.1,746.5 545.6,749.3 535.9,743.8 537.4,741.1ZM544.9,750.5 543.4,753.2 524.7,742.4 526.4,739.7ZM534.9,747.4 533.3,750.1 523.6,744.4 525.2,741.7ZM532.6,751.3 531.1,754.0 521.3,748.2 522.9,745.5ZM549.7,763.3 548.2,766.1 529.1,755.5 530.7,752.7ZM528.1,759.1 526.6,761.8 516.6,755.9 518.3,753.2ZM545.5,771.2 544.0,774.0 533.8,768.5 535.4,765.7ZM535.1,768.2 533.6,770.9 514.3,759.8 515.9,757.1ZM543.4,775.2 541.9,778.0 531.6,772.4 533.2,769.7ZM524.8,764.9 523.2,767.6 513.1,761.7 514.8,759.0ZM542.3,777.2 540.9,780.0 521.2,769.1 522.8,766.4ZM502.9,780.7 501.3,783.4 490.9,777.1 492.6,774.4ZM511.3,788.3 509.7,791.0 489.7,779.0 491.4,776.3ZM519.9,795.7 518.3,798.5 498.1,786.8 499.7,784.1ZM518.8,797.7 517.3,800.5 496.9,788.7 498.5,786.0ZM480.4,774.7 478.7,777.3 468.5,770.6 470.2,768.0ZM507.9,794.2 506.3,796.9 495.7,790.6 497.4,787.9ZM479.2,776.6 477.5,779.2 467.2,772.4 469.0,769.8ZM497.1,790.4 495.5,793.1 475.4,780.6 477.1,777.9ZM468.6,772.3 466.8,774.9 456.6,767.9 458.4,765.3ZM505.7,798.1 504.1,800.8 474.2,782.4 475.9,779.8ZM514.4,805.6 512.9,808.3 492.3,796.4 493.9,793.7ZM475.5,782.3 473.8,784.9 463.4,778.0 465.2,775.4ZM456.7,769.6 454.9,772.2 444.8,764.9 446.6,762.4ZM533.4,818.2 532.0,821.0 520.9,815.3 522.4,812.5ZM464.8,777.9 463.1,780.5 443.5,766.8 445.3,764.2ZM532.4,820.2 531.0,823.0 519.9,817.2 521.4,814.5ZM502.3,803.9 500.7,806.6 470.5,788.1 472.2,785.5ZM463.6,779.7 461.8,782.3 442.1,768.6 444.0,766.0ZM511.2,811.5 509.6,814.2 498.7,808.1 500.3,805.3ZM471.9,787.9 470.1,790.6 459.7,783.6 461.4,781.0ZM510.1,813.5 508.5,816.2 497.6,810.0 499.1,807.3ZM470.6,789.8 468.9,792.4 458.4,785.5 460.2,782.9ZM451.6,777.0 449.8,779.5 439.5,772.2 441.3,769.7ZM432.9,763.5 431.1,766.0 421.0,758.3 423.0,755.8ZM529.4,826.2 527.9,829.0 506.5,817.7 508.1,814.9ZM498.9,809.8 497.4,812.5 476.6,800.0 478.2,797.3ZM440.9,772.1 439.0,774.7 428.9,767.1 430.7,764.6ZM528.3,828.2 526.9,831.1 505.4,819.6 507.0,816.9ZM458.5,787.2 456.8,789.8 446.3,782.6 448.1,780.0ZM430.2,767.1 428.3,769.6 418.3,761.8 420.2,759.4ZM527.3,830.3 525.9,833.1 514.6,827.2 516.1,824.4ZM467.0,795.5 465.2,798.1 435.5,777.7 437.4,775.1ZM446.4,784.3 444.6,786.9 434.2,779.5 436.0,776.9ZM427.5,770.7 425.6,773.2 415.5,765.4 417.4,762.9ZM464.5,799.2 462.8,801.9 452.1,794.8 453.9,792.2ZM445.1,786.2 443.3,788.8 432.9,781.3 434.7,778.8ZM443.8,788.0 442.0,790.6 431.5,783.1 433.4,780.6ZM533.8,843.5 532.4,846.4 520.8,840.6 522.3,837.8ZM442.5,789.9 440.7,792.5 411.3,770.7 413.3,768.2ZM532.8,845.5 531.4,848.4 498.9,831.4 500.4,828.7ZM491.1,823.4 489.5,826.1 478.3,819.6 480.0,816.9ZM459.6,806.8 457.9,809.4 447.1,802.3 448.8,799.7ZM541.6,854.7 540.2,857.6 528.5,851.9 529.8,849.1ZM520.2,844.3 518.8,847.1 507.2,841.1 508.7,838.3ZM499.2,833.1 497.7,835.9 486.3,829.5 487.9,826.8ZM478.6,821.3 477.0,824.0 445.8,804.1 447.6,801.5ZM540.6,856.7 539.3,859.6 516.8,848.6 518.2,845.8ZM508.6,840.8 507.1,843.6 464.6,819.1 466.3,816.4ZM408.6,776.0 406.7,778.5 396.4,770.3 398.4,767.9ZM507.5,842.8 506.0,845.6 473.7,827.3 475.3,824.6ZM407.2,777.8 405.3,780.2 395.0,772.1 397.0,769.6ZM495.9,839.0 494.4,841.8 472.5,829.2 474.2,826.5ZM415.4,786.8 413.5,789.3 403.0,781.3 405.0,778.9ZM548.7,867.8 547.5,870.7 535.4,865.2 536.8,862.4ZM414.0,788.6 412.1,791.1 401.6,783.1 403.6,780.6ZM472.8,830.9 471.2,833.6 459.9,826.7 461.5,824.0ZM412.7,790.4 410.8,792.9 400.2,784.9 402.2,782.4ZM492.6,845.0 491.1,847.7 479.5,841.2 481.1,838.4ZM461.3,826.5 459.6,829.2 438.2,815.3 440.0,812.7ZM411.3,792.2 409.4,794.7 398.9,786.6 400.8,784.2ZM491.6,846.9 490.0,849.7 478.4,843.1 480.0,840.4ZM460.1,828.4 458.4,831.1 437.0,817.2 438.8,814.6ZM419.7,801.3 417.9,803.8 397.5,788.4 399.4,785.9ZM490.5,848.9 488.9,851.6 445.9,825.8 447.7,823.2ZM389.4,780.8 387.4,783.3 377.0,774.7 379.1,772.3ZM544.2,878.1 542.9,881.0 530.7,875.4 532.0,872.6ZM489.4,850.9 487.8,853.6 476.2,847.0 477.7,844.3ZM457.7,832.2 456.0,834.9 444.7,827.7 446.4,825.1ZM427.1,812.0 425.3,814.6 414.3,806.8 416.2,804.2ZM397.5,790.2 395.6,792.7 385.1,784.3 387.1,781.9ZM543.3,880.2 542.0,883.1 529.7,877.5 531.1,874.6ZM488.3,852.8 486.8,855.6 475.0,849.0 476.6,846.2ZM531.1,877.1 529.8,880.0 517.6,874.2 519.0,871.3ZM476.5,848.7 474.9,851.5 463.2,844.6 464.9,841.9ZM424.5,815.7 422.7,818.3 411.7,810.4 413.5,807.9ZM486.1,856.8 484.6,859.5 472.8,852.8 474.4,850.1ZM374.1,780.0 372.1,782.4 361.8,773.6 363.9,771.2ZM401.8,804.8 399.9,807.3 379.4,791.3 381.4,788.8ZM372.7,781.7 370.7,784.1 360.3,775.3 362.4,772.9ZM451.8,841.8 450.1,844.5 438.6,837.1 440.3,834.5ZM400.5,806.6 398.6,809.1 358.9,777.0 360.9,774.6ZM472.0,856.5 470.4,859.3 458.6,852.3 460.2,849.6ZM450.6,843.7 448.9,846.4 426.9,832.1 428.7,829.5ZM389.2,800.8 387.3,803.3 366.9,786.8 368.9,784.4ZM537.8,892.5 536.5,895.4 524.0,889.7 525.3,886.9ZM397.8,810.2 395.9,812.7 385.0,804.4 386.9,801.9ZM378.0,794.8 376.1,797.3 365.5,788.5 367.5,786.1ZM514.1,884.0 512.7,886.8 500.4,880.7 501.8,877.9ZM458.9,854.1 457.3,856.8 445.5,849.6 447.2,846.9ZM437.6,840.8 435.9,843.4 424.4,835.8 426.2,833.2ZM535.9,896.6 534.7,899.5 522.1,893.8 523.4,890.9ZM457.7,856.0 456.1,858.7 433.7,844.7 435.4,842.0ZM385.1,806.1 383.1,808.6 362.6,792.0 364.6,789.6ZM512.1,888.0 510.7,890.9 498.3,884.7 499.8,881.9ZM522.6,895.5 521.3,898.4 508.7,892.4 510.1,889.5ZM444.6,853.2 442.9,855.9 431.2,848.5 432.9,845.8ZM361.1,795.5 359.1,797.9 348.5,788.8 350.6,786.5ZM452.0,865.6 450.3,868.3 427.5,854.1 429.3,851.5ZM378.2,815.0 376.2,817.5 345.6,792.2 347.6,789.9ZM429.0,854.0 427.3,856.6 405.0,841.6 406.8,839.0ZM376.8,816.8 374.8,819.3 363.8,810.5 365.8,808.1ZM356.8,800.7 354.8,803.1 344.1,793.9 346.2,791.6ZM417.1,848.8 415.3,851.4 403.7,843.4 405.5,840.8ZM355.4,802.4 353.3,804.8 342.6,795.6 344.7,793.2ZM415.8,850.7 414.0,853.3 402.4,845.2 404.2,842.7ZM353.9,804.1 351.9,806.5 341.1,797.3 343.2,794.9ZM436.3,866.6 434.6,869.3 422.6,861.7 424.4,859.0ZM403.9,845.2 402.1,847.8 390.5,839.5 392.4,837.0ZM435.1,868.5 433.4,871.2 421.4,863.5 423.1,860.9ZM402.6,847.0 400.8,849.6 389.2,841.3 391.0,838.8ZM401.3,848.9 399.5,851.5 387.9,843.2 389.7,840.6ZM380.2,833.6 378.3,836.1 367.0,827.4 368.9,824.9ZM400.0,850.7 398.2,853.3 365.6,829.2 367.5,826.7ZM398.7,852.6 396.9,855.2 374.6,839.0 376.5,836.5ZM374.8,840.8 372.9,843.3 361.4,834.5 363.4,832.0ZM343.8,816.2 341.8,818.6 330.8,809.2 332.9,806.8ZM427.9,880.0 426.3,882.6 414.0,874.9 415.8,872.2ZM332.3,809.3 330.2,811.7 319.4,802.1 321.5,799.7ZM426.8,881.9 425.1,884.6 412.8,876.7 414.5,874.1ZM361.5,836.3 359.6,838.8 348.2,829.7 350.2,827.3ZM330.8,811.0 328.8,813.4 317.9,803.8 320.0,801.4ZM403.2,869.3 401.5,871.9 389.5,863.7 391.3,861.1ZM413.1,878.5 411.4,881.2 399.2,873.1 401.0,870.5ZM411.9,880.4 410.2,883.1 397.9,875.0 399.7,872.4ZM336.6,824.8 334.6,827.2 323.4,817.7 325.5,815.3ZM410.7,882.3 408.9,885.0 396.7,876.8 398.4,874.2ZM560.2,1019.7 559.2,1022.7 530.7,1012.3 531.8,1009.3ZM573.2,1026.4 572.2,1029.4 543.5,1019.5 544.6,1016.5ZM572.5,1028.5 571.5,1031.5 556.5,1026.5 557.5,1023.5ZM570.4,1035.0 569.5,1037.9 554.3,1032.9 555.3,1029.9ZM583.7,1041.5 582.8,1044.5 567.5,1039.7 568.5,1036.7ZM501.0,1011.5 499.8,1014.4 485.0,1007.9 486.3,1005.1ZM569.0,1039.2 568.1,1042.2 511.3,1021.6 512.5,1018.6ZM512.9,1021.2 511.7,1024.2 496.8,1018.0 498.0,1015.1ZM567.7,1043.5 566.7,1046.5 551.3,1041.4 552.3,1038.4ZM512.0,1023.3 510.9,1026.2 495.9,1020.0 497.1,1017.1ZM552.9,1041.0 551.9,1043.9 522.6,1033.3 523.7,1030.3ZM511.2,1025.4 510.0,1028.3 495.0,1022.1 496.2,1019.2ZM496.6,1021.8 495.4,1024.7 453.4,1005.6 454.8,1002.7ZM565.6,1049.9 564.6,1052.9 535.0,1042.7 536.1,1039.8ZM495.7,1023.9 494.5,1026.8 479.5,1020.3 480.8,1017.4ZM468.5,1011.8 467.1,1014.6 452.4,1007.6 453.8,1004.8ZM536.6,1042.4 535.5,1045.3 520.2,1039.6 521.3,1036.6ZM467.5,1013.8 466.2,1016.7 451.4,1009.6 452.8,1006.8ZM549.2,1051.6 548.2,1054.6 532.7,1049.1 533.8,1046.1ZM507.0,1035.8 505.8,1038.8 490.6,1032.5 491.8,1029.6ZM520.2,1043.4 519.0,1046.4 503.7,1040.3 504.9,1037.4ZM492.2,1032.2 491.0,1035.1 475.8,1028.5 477.1,1025.6ZM505.3,1040.0 504.1,1042.9 488.8,1036.6 490.1,1033.7ZM502.8,1046.3 501.6,1049.2 486.2,1042.8 487.4,1039.9ZM474.7,1034.4 473.5,1037.3 458.3,1030.4 459.6,1027.5ZM487.8,1042.5 486.6,1045.4 471.3,1038.8 472.5,1035.9Z"/>
<path fill="#10b010" stroke="#10b010" stroke-width="0.6" shape-rendering="crispEdges" d="M552.5,736.7 551.0,739.4 541.5,734.0 543.1,731.3ZM546.0,748.5 544.5,751.2 525.9,740.5 527.5,737.8ZM543.8,752.4 542.3,755.2 532.5,749.6 534.1,746.9ZM551.8,759.3 550.3,762.1 540.4,756.7 541.9,753.9ZM537.3,764.2 535.8,767.0 525.7,761.3 527.3,758.6ZM536.2,766.2 534.7,769.0 515.5,757.9 517.1,755.2ZM534.0,770.1 532.5,772.9 522.4,767.2 523.9,764.4ZM506.8,796.1 505.2,798.8 494.6,792.6 496.2,789.9ZM476.8,780.4 475.0,783.0 455.3,769.7 457.2,767.1ZM466.1,776.0 464.3,778.6 454.1,771.6 455.9,769.0ZM501.2,805.9 499.6,808.6 488.8,802.2 490.4,799.5ZM500.1,807.8 498.5,810.5 487.6,804.1 489.2,801.4ZM442.2,770.3 440.3,772.8 430.2,765.3 432.1,762.8ZM509.0,815.4 507.5,818.2 496.4,811.9 498.0,809.2ZM479.1,797.9 477.5,800.6 466.8,793.8 468.5,791.1ZM507.9,817.4 506.4,820.1 485.3,808.0 486.9,805.3ZM468.2,793.6 466.5,796.2 455.9,789.2 457.6,786.6ZM449.0,780.6 447.2,783.2 436.8,775.9 438.7,773.3ZM517.0,824.9 515.5,827.7 494.2,815.8 495.8,813.1ZM476.8,801.7 475.1,804.4 464.4,797.5 466.1,794.9ZM438.2,775.8 436.4,778.3 416.9,763.6 418.8,761.1ZM526.3,832.3 524.9,835.1 513.5,829.2 515.0,826.4ZM436.9,777.6 435.1,780.1 424.8,772.5 426.7,770.0ZM534.8,841.5 533.4,844.3 521.9,838.6 523.3,835.8ZM453.5,794.7 451.7,797.3 441.1,790.0 442.9,787.4ZM523.2,838.3 521.8,841.1 489.7,823.6 491.3,820.9ZM472.0,809.3 470.3,812.0 459.4,805.1 461.2,802.4ZM452.2,796.5 450.5,799.1 439.8,791.8 441.7,789.2ZM501.4,829.2 499.8,832.0 488.6,825.6 490.1,822.9ZM460.8,804.9 459.1,807.6 410.0,772.5 411.9,770.0ZM531.8,847.6 530.4,850.4 497.8,833.4 499.3,830.6ZM449.7,800.3 448.0,802.9 437.3,795.5 439.1,792.9ZM530.8,849.6 529.4,852.4 517.8,846.6 519.2,843.8ZM509.6,838.8 508.2,841.6 496.7,835.4 498.2,832.6ZM448.5,802.1 446.7,804.7 426.2,790.4 428.1,787.9ZM467.2,817.0 465.6,819.6 454.5,812.6 456.3,810.0ZM476.3,825.1 474.6,827.8 463.4,821.0 465.1,818.3ZM538.7,860.8 537.4,863.7 525.5,858.0 526.9,855.2ZM475.1,827.1 473.5,829.8 452.1,816.4 453.8,813.7ZM425.0,794.0 423.2,796.5 412.6,788.7 414.5,786.2ZM516.1,852.3 514.7,855.1 492.3,843.2 493.9,840.5ZM473.9,829.0 472.3,831.7 450.9,818.3 452.6,815.6ZM504.4,848.7 502.9,851.5 491.2,845.2 492.8,842.4ZM462.5,824.6 460.8,827.3 449.6,820.2 451.3,817.5ZM440.9,813.3 439.2,815.9 408.5,794.1 410.4,791.6ZM534.0,871.0 532.6,873.9 520.6,868.1 521.9,865.3ZM501.2,854.7 499.7,857.5 488.0,851.1 489.5,848.4ZM500.1,856.7 498.7,859.5 486.9,853.1 488.4,850.3ZM387.9,782.6 386.0,785.0 375.6,776.5 377.6,774.1ZM425.8,813.8 424.0,816.4 413.0,808.6 414.9,806.1ZM386.5,784.3 384.5,786.8 374.1,778.2 376.2,775.8ZM520.0,871.8 518.6,874.7 506.5,868.6 508.0,865.8ZM498.0,860.7 496.6,863.5 473.9,850.9 475.5,848.2ZM414.5,808.5 412.6,811.1 401.7,803.1 403.6,800.5ZM385.1,786.1 383.1,788.5 372.7,779.9 374.7,777.5ZM497.0,862.7 495.5,865.4 483.6,859.0 485.1,856.2ZM393.4,795.5 391.4,798.0 371.3,781.6 373.3,779.2ZM495.9,864.6 494.4,867.4 482.5,860.9 484.0,858.2ZM382.3,789.6 380.3,792.0 369.8,783.4 371.8,780.9ZM505.9,872.4 504.5,875.2 492.4,868.9 493.9,866.1ZM441.3,835.1 439.5,837.8 428.2,830.2 429.9,827.6ZM461.2,850.2 459.6,852.9 447.9,845.8 449.6,843.1ZM515.1,882.0 513.7,884.8 501.4,878.7 502.8,875.9ZM460.1,852.1 458.4,854.8 436.1,840.9 437.8,838.3ZM387.8,802.6 385.9,805.1 375.2,796.5 377.1,794.1ZM448.2,847.5 446.5,850.2 434.9,842.8 436.6,840.2ZM386.5,804.4 384.5,806.9 364.0,790.2 366.0,787.8ZM513.1,886.0 511.7,888.8 499.4,882.7 500.8,879.9ZM535.0,898.7 533.8,901.6 521.1,895.8 522.5,893.0ZM351.5,787.2 349.4,789.6 339.0,780.4 341.1,778.0ZM366.7,808.8 364.7,811.3 353.9,802.3 355.9,799.9ZM427.8,855.9 426.1,858.5 414.3,850.7 416.1,848.1ZM426.6,857.8 424.9,860.4 413.1,852.6 414.8,850.0ZM374.0,820.3 372.1,822.8 361.0,814.0 363.0,811.6ZM425.3,859.7 423.6,862.3 401.1,847.1 402.9,844.5ZM372.6,822.1 370.7,824.6 359.6,815.8 361.6,813.3ZM413.3,854.4 411.5,857.0 399.8,848.9 401.6,846.4ZM412.0,856.3 410.3,858.9 398.5,850.8 400.3,848.2ZM339.7,800.8 337.6,803.2 326.9,793.7 329.0,791.4ZM421.7,865.3 420.0,868.0 397.2,852.6 399.0,850.0ZM368.5,827.4 366.5,829.9 355.3,821.0 357.3,818.5ZM338.2,802.5 336.1,804.9 325.4,795.4 327.5,793.1ZM377.5,837.2 375.6,839.7 364.2,830.9 366.1,828.5ZM336.7,804.2 334.7,806.6 323.9,797.1 326.0,794.7ZM376.1,839.0 374.2,841.5 362.8,832.7 364.7,830.2ZM418.0,871.0 416.3,873.6 393.3,858.1 395.1,855.6ZM362.9,834.5 361.0,837.0 349.6,828.0 351.6,825.5ZM404.5,867.4 402.7,870.1 390.7,861.8 392.6,859.2ZM351.2,828.1 349.2,830.5 338.0,821.3 340.0,818.8ZM349.7,829.8 347.8,832.3 336.5,823.0 338.5,820.6ZM573.9,1024.3 572.9,1027.2 557.9,1022.2 559.0,1019.2ZM545.8,1017.0 544.7,1019.9 516.4,1009.0 517.5,1006.1ZM558.7,1023.9 557.7,1026.9 542.7,1021.6 543.8,1018.6ZM585.1,1037.2 584.1,1040.2 555.0,1030.7 556.0,1027.8ZM529.8,1018.2 528.7,1021.2 513.8,1015.3 515.0,1012.4ZM556.5,1030.3 555.5,1033.3 540.4,1027.9 541.5,1025.0ZM515.4,1015.0 514.2,1017.9 499.4,1011.8 500.6,1008.9ZM569.7,1037.1 568.8,1040.1 539.6,1030.1 540.7,1027.1ZM568.4,1041.4 567.4,1044.4 538.1,1034.3 539.2,1031.3ZM526.6,1026.6 525.5,1029.6 510.4,1023.6 511.6,1020.7ZM553.6,1038.8 552.6,1041.8 509.6,1025.7 510.8,1022.8ZM482.0,1017.9 480.8,1020.8 465.9,1014.0 467.2,1011.2ZM564.9,1052.1 563.9,1055.1 534.2,1044.9 535.3,1041.9ZM522.6,1037.1 521.5,1040.1 506.2,1034.1 507.4,1031.2ZM494.9,1026.0 493.6,1028.9 464.9,1016.1 466.3,1013.2ZM550.0,1049.5 548.9,1052.5 519.4,1041.7 520.5,1038.7ZM494.0,1028.0 492.7,1030.9 477.7,1024.4 479.0,1021.5ZM493.1,1030.1 491.9,1033.0 476.8,1026.4 478.0,1023.6ZM506.1,1037.9 505.0,1040.8 489.7,1034.5 490.9,1031.6ZM488.7,1040.5 487.5,1043.4 472.2,1036.7 473.5,1033.8ZM516.2,1053.9 515.0,1056.9 499.5,1050.8 500.6,1047.8ZM501.1,1050.4 499.9,1053.4 484.4,1047.0 485.7,1044.1Z"/>
<path fill="#0fa00f" stroke="#0fa00f" stroke-width="0.6" shape-rendering="crispEdges" d="M542.7,754.4 541.2,757.1 531.4,751.6 532.9,748.8ZM550.8,761.3 549.3,764.1 530.2,753.5 531.8,750.8ZM478.0,778.5 476.3,781.1 466.0,774.3 467.7,771.7ZM491.3,800.0 489.7,802.7 469.3,790.0 471.0,787.3ZM490.1,802.0 488.5,804.7 468.0,791.9 469.7,789.2ZM487.8,805.8 486.2,808.5 465.6,795.6 467.3,793.0ZM439.6,773.9 437.7,776.5 427.5,768.9 429.4,766.4ZM496.7,813.6 495.1,816.4 484.1,809.9 485.8,807.2ZM516.0,826.9 514.5,829.7 503.2,823.6 504.8,820.8ZM475.6,803.6 473.9,806.3 463.1,799.4 464.8,796.8ZM525.3,834.3 523.9,837.1 512.5,831.1 514.0,828.4ZM492.2,821.4 490.6,824.2 469.4,811.4 471.1,808.8ZM462.1,803.0 460.4,805.7 449.6,798.5 451.3,795.9ZM440.0,793.6 438.2,796.1 427.6,788.6 429.4,786.0ZM420.8,779.6 418.9,782.2 408.6,774.2 410.5,771.8ZM419.4,781.4 417.5,784.0 407.2,776.0 409.1,773.5ZM457.2,810.6 455.5,813.2 434.7,799.2 436.5,796.6ZM418.1,783.2 416.2,785.8 405.8,777.8 407.7,775.3ZM466.0,818.9 464.4,821.6 453.3,814.5 455.0,811.9ZM436.1,799.1 434.3,801.7 404.4,779.6 406.3,777.1ZM527.9,855.7 526.5,858.5 493.4,841.3 494.9,838.5ZM454.7,814.3 453.0,817.0 442.0,809.7 443.8,807.1ZM434.8,800.9 433.0,803.5 422.3,795.9 424.1,793.3ZM537.8,862.9 536.4,865.7 524.5,860.0 525.9,857.2ZM453.5,816.2 451.8,818.9 440.8,811.6 442.5,809.0ZM423.7,795.8 421.8,798.3 411.2,790.5 413.1,788.0ZM536.8,864.9 535.5,867.8 523.5,862.0 524.9,859.2ZM515.1,854.3 513.7,857.1 501.9,851.0 503.4,848.2ZM432.2,804.6 430.4,807.2 409.9,792.3 411.8,789.8ZM535.9,866.9 534.5,869.8 522.5,864.1 523.9,861.2ZM503.3,850.7 501.8,853.5 490.1,847.2 491.7,844.4ZM534.9,869.0 533.6,871.8 521.5,866.1 522.9,863.3ZM502.2,852.7 500.8,855.5 489.0,849.1 490.6,846.4ZM533.0,873.1 531.7,875.9 519.6,870.1 521.0,867.3ZM532.1,875.1 530.7,878.0 518.6,872.2 520.0,869.3ZM499.1,858.7 497.6,861.5 485.8,855.0 487.3,852.3ZM415.8,806.7 413.9,809.3 383.7,786.0 385.6,783.6ZM509.0,866.4 507.5,869.2 495.5,862.9 497.0,860.1ZM404.5,801.2 402.6,803.7 382.2,787.8 384.2,785.3ZM530.2,879.2 528.8,882.0 516.6,876.2 518.0,873.4ZM528.3,883.3 526.9,886.1 514.6,880.2 516.0,877.4ZM527.3,885.3 526.0,888.2 502.4,876.7 503.9,873.9ZM526.4,887.3 525.0,890.2 512.7,884.3 514.0,881.5ZM525.4,889.4 524.1,892.2 511.7,886.3 513.1,883.5ZM375.4,818.6 373.4,821.0 352.4,804.0 354.5,801.6ZM363.9,812.3 361.9,814.8 351.0,805.8 353.0,803.3ZM342.6,797.4 340.6,799.8 329.9,790.4 332.0,788.1ZM424.1,861.5 422.4,864.2 410.5,856.3 412.3,853.7ZM371.2,823.9 369.3,826.4 358.1,817.5 360.1,815.1ZM341.1,799.1 339.1,801.5 328.4,792.1 330.5,789.7ZM422.9,863.4 421.2,866.1 409.3,858.2 411.0,855.6ZM349.6,809.3 347.6,811.7 336.7,802.4 338.8,800.0ZM409.5,860.0 407.8,862.6 395.9,854.5 397.7,851.9ZM367.1,829.2 365.1,831.7 353.9,822.7 355.9,820.3ZM408.3,861.9 406.5,864.5 394.6,856.3 396.4,853.7ZM365.7,831.0 363.8,833.5 332.3,807.5 334.3,805.1ZM364.3,832.8 362.4,835.2 340.9,817.8 342.9,815.4ZM405.7,865.6 404.0,868.2 392.0,860.0 393.8,857.4ZM352.6,826.3 350.6,828.8 329.3,810.9 331.4,808.5ZM415.6,874.8 413.8,877.4 401.7,869.4 403.5,866.8ZM340.9,819.6 338.9,822.0 327.8,812.6 329.9,810.2ZM338.0,823.1 336.0,825.5 324.9,816.0 326.9,813.6ZM545.0,1019.1 544.0,1022.1 515.5,1011.1 516.7,1008.2ZM585.7,1035.0 584.8,1038.1 514.7,1013.2 515.8,1010.3ZM557.3,1028.2 556.3,1031.2 527.5,1020.7 528.6,1017.7ZM529.0,1020.3 527.9,1023.3 513.0,1017.4 514.2,1014.5ZM542.0,1027.6 540.9,1030.5 525.8,1024.9 527.0,1021.9ZM514.6,1017.1 513.4,1020.0 498.5,1013.8 499.8,1010.9ZM540.4,1031.8 539.4,1034.7 524.2,1029.1 525.4,1026.1ZM508.7,1031.7 507.5,1034.6 492.4,1028.3 493.6,1025.4ZM521.8,1039.2 520.7,1042.2 491.5,1030.4 492.7,1027.5ZM501.9,1048.4 500.8,1051.3 485.3,1044.9 486.5,1042.0Z"/>
<path fill="#0c8c0c" stroke="#0c8c0c" stroke-width="0.6" shape-rendering="crispEdges" d="M486.7,807.8 485.1,810.5 474.2,803.8 475.9,801.1ZM505.7,821.3 504.2,824.1 493.1,817.8 494.6,815.1ZM514.9,828.9 513.4,831.7 502.2,825.5 503.7,822.8ZM474.4,805.5 472.7,808.2 461.9,801.3 463.6,798.7ZM503.5,825.3 502.0,828.0 490.8,821.7 492.4,819.0ZM430.3,786.7 428.5,789.2 418.0,781.5 419.9,779.0ZM429.0,788.5 427.1,791.1 416.7,783.3 418.5,780.8ZM437.4,797.2 435.6,799.8 415.3,785.1 417.2,782.6ZM455.9,812.5 454.2,815.1 433.4,801.0 435.2,798.5ZM444.7,807.7 442.9,810.3 432.1,802.9 433.9,800.3ZM526.9,857.7 525.5,860.5 513.7,854.6 515.1,851.8ZM443.4,809.6 441.7,812.2 421.0,797.7 422.8,795.1ZM525.9,859.7 524.5,862.5 512.7,856.6 514.1,853.8ZM452.3,818.1 450.6,820.8 429.5,806.6 431.3,804.0ZM522.9,865.8 521.6,868.6 498.7,857.0 500.2,854.2ZM522.0,867.8 520.6,870.6 497.7,858.9 499.1,856.2ZM521.0,869.8 519.6,872.7 496.6,860.9 498.1,858.2ZM519.0,873.9 517.6,876.7 494.5,864.9 496.0,862.1ZM517.0,877.9 515.7,880.7 503.5,874.7 504.9,871.9ZM524.5,891.4 523.1,894.3 510.7,888.3 512.1,885.5ZM523.5,893.5 522.2,896.3 509.7,890.3 511.1,887.5ZM352.5,805.8 350.5,808.2 339.7,799.0 341.7,796.6ZM351.0,807.5 349.0,810.0 338.2,800.7 340.2,798.3ZM369.8,825.7 367.9,828.1 346.6,810.9 348.7,808.5ZM358.2,819.3 356.3,821.8 335.2,804.1 337.3,801.7ZM420.5,867.2 418.7,869.9 406.8,861.9 408.5,859.3ZM419.2,869.1 417.5,871.7 405.5,863.8 407.3,861.2ZM416.8,872.9 415.1,875.5 403.0,867.5 404.7,864.9ZM339.5,821.3 337.4,823.8 326.4,814.3 328.4,811.9ZM542.7,1025.4 541.7,1028.4 526.6,1022.8 527.8,1019.8ZM528.2,1022.4 527.1,1025.4 512.1,1019.5 513.3,1016.6Z"/>
<path fill="#0a780a" stroke="#0a780a" stroke-width="0.6" shape-rendering="crispEdges" d="M495.6,815.6 494.0,818.3 473.0,805.7 474.7,803.0ZM504.6,823.3 503.1,826.1 471.8,807.6 473.5,805.0ZM524.3,836.3 522.8,839.1 501.1,827.5 502.6,824.7ZM493.3,819.5 491.7,822.2 450.8,796.7 452.6,794.1ZM524.9,861.7 523.5,864.6 500.8,853.0 502.3,850.2ZM523.9,863.7 522.6,866.6 499.8,855.0 501.3,852.2ZM529.2,881.2 527.9,884.1 493.4,866.9 494.9,864.1ZM362.5,814.1 360.5,816.5 349.5,807.5 351.6,805.1ZM361.1,815.8 359.1,818.3 348.1,809.2 350.1,806.8ZM356.8,821.1 354.8,823.5 333.7,805.8 335.8,803.4Z"/>
<path d="M371.4,355.5C372.3,355.7 374.8,356.6 377.0,356.4C379.1,356.3 382.2,355.7 384.4,354.6C386.5,353.5 387.7,350.1 389.9,350.0C392.1,349.8 394.8,353.5 397.3,353.7C399.8,353.8 402.2,351.6 404.7,350.9C407.2,350.1 410.0,350.1 412.1,349.0C414.3,347.9 416.4,346.4 417.7,344.4C418.9,342.4 418.6,339.6 419.5,337.0C420.4,334.4 423.1,331.1 423.2,328.7C423.4,326.2 420.6,324.1 420.4,322.2C420.3,320.4 421.2,318.2 422.3,317.6C423.4,317.0 425.4,317.7 426.9,318.5C428.5,319.3 429.4,322.2 431.5,322.2C433.7,322.2 437.1,320.4 439.9,318.5C442.6,316.7 445.7,312.0 448.2,311.1C450.7,310.2 452.7,311.7 454.7,313.0C456.7,314.2 458.8,315.4 460.2,318.5C461.6,321.6 462.1,328.8 463.0,331.5C463.9,334.1 464.6,333.6 465.8,334.2C466.9,334.8 469.3,335.0 470.0,335.2 M337.2,471.1C338.3,471.0 341.6,469.0 343.7,470.2C345.7,471.4 345.8,477.5 349.2,478.5C352.6,479.6 358.8,480.9 364.0,476.7C369.2,472.5 376.3,455.9 380.7,453.6C385.0,451.2 387.1,458.6 389.9,462.8C392.7,467.0 395.1,475.9 397.3,478.5C399.5,481.2 401.2,479.5 402.9,478.5C404.6,477.6 406.4,475.9 407.5,473.0C408.6,470.1 408.4,462.7 409.3,461.0C410.3,459.3 411.3,458.2 413.0,462.8C414.7,467.4 416.9,484.7 419.5,488.7C422.1,492.7 426.0,489.0 428.8,486.9C431.5,484.7 433.1,476.4 436.2,475.8C439.2,475.1 444.5,481.8 447.3,483.2C450.0,484.6 450.2,482.1 452.8,484.1C455.4,486.1 462.4,492.5 463.0,495.2C463.6,497.8 457.6,499.2 456.5,500.0 M463.0,495.2C463.8,494.4 466.8,493.8 467.6,490.6C468.4,487.3 466.7,479.3 467.6,475.8C468.5,472.2 470.7,470.8 473.2,469.3C475.6,467.7 480.6,468.2 482.4,466.5C484.3,464.8 484.0,462.5 484.3,459.1C484.6,455.7 483.3,450.2 484.3,446.2C485.2,442.2 489.0,436.9 490.0,435.1 M470.0,335.2C471.9,335.8 477.4,337.0 481.1,338.9C484.8,340.7 488.5,345.6 492.2,346.3C495.9,346.9 500.4,342.9 503.3,342.6C506.2,342.2 508.5,342.7 509.8,344.4C511.0,346.1 511.6,350.4 510.7,352.7C509.8,355.0 507.0,356.4 504.2,358.3C501.5,360.1 496.1,359.7 494.1,363.8C492.0,368.0 491.3,378.8 492.2,383.3C493.1,387.7 498.1,387.7 499.6,390.7C501.1,393.6 500.2,400.5 501.5,400.8C502.7,401.1 504.8,394.2 507.0,392.5C509.2,390.8 511.6,394.0 514.4,390.7C517.2,387.3 520.3,377.2 523.7,372.2C527.0,367.1 532.0,361.4 534.8,360.1C537.5,358.9 538.6,364.1 540.3,364.8C542.0,365.4 543.2,363.7 544.9,363.8C546.6,364.0 548.8,364.0 550.5,365.7C552.2,367.4 553.1,372.5 555.1,374.0C557.1,375.5 559.4,375.5 562.5,374.9C565.6,374.3 571.4,368.5 573.6,370.3C575.8,372.2 574.5,383.3 575.5,386.0C576.4,388.8 578.4,385.7 579.2,387.0C579.9,388.2 578.5,392.4 580.1,393.4C581.6,394.5 587.0,393.4 588.4,393.4 M540.3,364.8C540.3,368.1 541.1,378.6 540.3,385.1C539.5,391.6 536.8,399.3 535.7,403.6C534.6,407.9 533.4,407.6 533.8,411.0C534.3,414.4 536.5,420.3 538.5,424.0C540.5,427.7 542.5,430.1 545.9,433.2C549.2,436.3 554.8,439.4 558.8,442.5C562.8,445.5 565.9,448.6 569.9,451.7C573.9,454.8 579.0,457.0 582.9,461.0C586.7,465.0 589.6,475.5 593.0,475.8C596.4,476.1 599.4,465.9 603.2,462.8C607.1,459.7 611.8,458.0 616.2,457.3C620.5,456.5 627.4,459.1 629.1,458.2C630.8,457.3 626.8,452.8 626.3,451.7 M501.5,400.8C501.6,403.0 503.9,408.5 502.4,413.8C500.8,419.0 495.0,427.8 492.2,432.3C489.4,436.8 487.3,436.8 485.7,440.6C484.2,444.5 483.4,451.7 483.0,455.4C482.5,459.1 483.6,460.7 483.0,462.8C482.3,465.0 481.4,467.0 479.3,468.4C477.1,469.8 471.5,470.7 470.0,471.1 M647.8,606.2C649.9,606.6 656.1,607.2 660.7,608.9C665.3,610.6 671.8,613.9 675.5,616.3C679.2,618.8 680.4,623.3 682.9,623.7C685.4,624.2 687.2,620.7 690.3,619.1C693.4,617.6 697.7,614.9 701.4,614.5C705.1,614.0 709.4,616.3 712.5,616.3C715.6,616.3 718.4,616.2 719.9,614.5C721.4,612.8 720.7,608.9 721.8,606.2C722.8,603.4 724.5,599.2 726.4,597.8C728.2,596.4 728.5,594.4 732.9,597.8C737.2,601.2 748.3,614.9 752.3,618.2C756.3,621.4 754.6,619.3 756.9,617.3C759.2,615.3 762.2,607.2 766.2,606.2C770.2,605.1 775.7,609.1 781.0,610.8C786.2,612.5 794.8,615.4 797.6,616.3 M570.0,451.0C570.6,451.9 572.0,455.1 573.6,456.5C575.2,457.9 577.6,458.1 579.6,459.5C581.6,460.9 583.9,462.9 585.6,464.9C587.3,466.9 588.4,469.6 589.8,471.5C591.2,473.4 592.5,476.2 594.1,476.3C595.6,476.4 597.4,474.2 598.9,472.1C600.4,470.0 600.3,466.1 603.1,463.7C605.9,461.3 611.4,458.6 615.7,457.7C620.0,456.8 627.1,459.3 628.9,458.3C630.7,457.3 626.9,452.7 626.5,451.6 M570.0,522.6C570.6,522.5 570.8,521.3 573.6,522.0C576.4,522.7 583.6,526.5 586.8,526.8C590.0,527.1 590.9,524.1 592.8,523.8C594.8,523.5 597.6,523.4 598.3,525.0C599.0,526.6 596.8,530.4 597.1,533.4C597.4,536.4 598.6,540.2 600.1,543.0C601.6,545.8 603.9,548.5 606.1,550.3C608.3,552.1 610.9,553.6 613.3,553.9C615.7,554.2 618.3,552.1 620.5,552.1C622.7,552.1 625.1,552.5 626.5,553.9C627.9,555.2 628.5,559.0 628.9,560.0 M632.5,560.0C633.3,558.0 635.3,551.5 637.3,547.9C639.3,544.2 642.5,541.2 644.6,538.2C646.7,535.2 650.1,532.9 650.0,529.8C649.9,526.7 644.3,522.6 644.0,519.6C643.7,516.6 646.7,514.7 648.2,511.8C649.7,508.9 648.6,503.5 653.0,502.2C657.4,500.9 670.4,504.8 674.6,504.0C678.8,503.2 677.5,497.8 678.2,497.3C678.9,496.8 679.2,499.7 678.8,501.0C678.4,502.3 676.3,503.3 675.8,505.2C675.3,507.1 674.8,511.3 675.8,512.4C676.8,513.5 680.8,511.9 681.8,511.8 M418.4,480.0C418.6,481.4 418.1,487.1 419.3,488.3C420.6,489.6 423.8,488.8 425.8,487.4C427.8,486.0 430.4,481.2 431.4,480.0 M442.5,480.0C443.1,480.6 444.0,482.5 446.2,483.7C448.3,484.9 452.6,485.6 455.4,487.4C458.2,489.3 460.8,494.2 462.8,494.8C464.8,495.4 466.5,493.6 467.4,491.1C468.4,488.6 468.2,481.9 468.4,480.0 M462.8,494.8C461.7,495.7 457.3,496.3 456.3,500.4C455.4,504.4 457.7,514.1 457.3,518.9C456.8,523.6 453.1,527.0 453.6,529.0C454.0,531.0 456.6,531.5 460.0,530.9C463.4,530.3 469.8,526.9 473.9,525.3C478.1,523.8 481.9,522.1 485.0,521.6C488.1,521.2 489.9,522.4 492.4,522.6C494.9,522.7 498.7,522.6 500.0,522.6 M492.4,522.6C492.0,523.5 489.6,525.5 489.6,528.1C489.6,530.7 493.3,535.7 492.4,538.3C491.5,540.9 486.1,541.8 484.1,543.8C482.1,545.8 481.0,548.0 480.4,550.3C479.8,552.6 482.2,555.9 480.4,557.7C478.5,559.6 471.4,559.6 469.3,561.4C467.1,563.3 467.3,566.0 467.4,568.8C467.6,571.6 471.0,575.4 470.2,578.1C469.4,580.7 464.4,581.9 462.8,584.5C461.3,587.2 459.3,588.4 461.0,593.8C462.7,599.2 471.6,611.2 473.0,616.9C474.4,622.6 471.1,626.2 469.3,628.0C467.4,629.9 464.8,627.4 461.9,628.0C459.0,628.6 457.1,628.3 451.7,631.7C446.3,635.1 434.8,646.5 429.5,648.4C424.3,650.2 423.3,645.0 420.3,642.8C417.2,640.7 413.9,636.2 411.0,635.4C408.1,634.6 404.1,637.7 402.7,638.2 M469.3,628.0C470.1,631.7 471.6,646.0 473.9,650.2C476.2,654.4 480.1,652.5 483.2,653.0C486.2,653.5 489.6,652.4 492.4,653.0C495.2,653.6 498.7,656.1 500.0,656.7 M480.0,522.2C481.2,522.0 485.4,521.1 487.4,521.3C489.4,521.4 490.2,523.1 492.0,523.1C493.9,523.1 495.3,522.4 498.5,521.3C501.7,520.2 508.1,516.8 511.5,516.7C514.8,516.5 516.7,519.1 518.9,520.4C521.0,521.6 522.9,524.2 524.4,524.1C525.9,523.9 526.6,518.8 528.1,519.4C529.6,520.0 532.4,525.4 533.7,527.8C534.9,530.1 533.8,531.8 535.5,533.3C537.2,534.8 541.4,536.8 543.8,537.0C546.3,537.2 548.5,535.2 550.3,534.2C552.2,533.3 553.4,533.0 554.9,531.5C556.5,529.9 556.9,526.5 559.6,525.0C562.2,523.4 568.0,522.5 570.7,522.2C573.3,521.9 572.7,522.4 575.3,523.1C577.9,523.9 583.6,526.8 586.4,526.8C589.2,526.8 590.2,523.6 591.9,523.1C593.6,522.7 595.6,522.0 596.6,524.1C597.5,526.1 596.6,531.5 597.5,535.2C598.4,538.9 600.1,543.3 602.1,546.3C604.1,549.2 607.0,551.5 609.5,552.7C612.0,554.0 614.3,553.8 616.9,553.7C619.5,553.5 623.4,551.5 625.2,551.8C627.1,552.1 627.4,553.7 628.0,555.5C628.6,557.4 628.3,561.2 628.9,562.9C629.6,564.6 629.7,564.6 631.7,565.7C633.7,566.8 638.5,568.3 641.0,569.4C643.4,570.5 644.8,569.5 646.5,572.2C648.2,574.8 650.1,582.0 651.1,585.1C652.2,588.2 652.8,588.0 653.0,590.7C653.1,593.3 652.8,598.4 652.1,600.8C651.3,603.3 647.4,604.2 648.4,605.5C649.3,606.7 653.6,606.8 657.6,608.2C661.6,609.6 668.7,611.6 672.4,613.8C676.1,615.9 678.7,620.0 680.0,621.2 M492.0,523.1C491.4,524.2 488.3,527.0 488.3,529.6C488.3,532.2 492.8,536.2 492.0,538.9C491.3,541.5 485.7,543.0 483.7,545.3C481.7,547.6 480.6,550.7 480.0,552.7C479.4,554.7 480.0,556.6 480.0,557.4 M628.9,562.9C630.0,560.7 632.5,554.4 635.4,550.0C638.3,545.5 644.0,539.6 646.5,536.1C649.0,532.5 650.7,531.5 650.2,528.7C649.8,525.9 643.4,523.7 643.7,519.4C644.0,515.1 649.8,505.7 652.1,502.8C654.4,499.8 653.6,501.9 657.6,501.9C661.6,501.9 672.4,503.1 676.1,502.8C679.8,502.5 679.4,500.5 680.0,500.0 M676.1,502.8C676.3,504.2 676.4,509.6 677.0,511.1C677.7,512.6 679.5,511.9 680.0,512.0 M648.4,605.5C647.1,605.0 645.0,603.3 641.0,602.7C637.0,602.1 628.6,600.1 624.3,601.8C620.0,603.5 617.8,610.2 615.1,612.9C612.3,615.5 609.5,615.3 607.7,617.5C605.8,619.6 605.5,623.7 604.0,625.8C602.4,628.0 600.3,629.5 598.4,630.4C596.6,631.4 594.1,628.7 592.9,631.4C591.6,634.0 591.6,642.9 591.0,646.2C590.4,649.4 590.4,648.6 589.2,650.8C587.9,652.9 584.2,657.1 583.6,659.1C583.0,661.1 584.2,662.2 585.5,662.8C586.7,663.4 588.2,663.1 591.0,662.8C593.8,662.5 598.7,660.5 602.1,661.0C605.5,661.4 609.2,665.0 611.4,665.6C613.5,666.2 609.8,664.7 615.1,664.7C620.3,664.7 637.1,664.0 642.8,665.6C648.5,667.1 647.0,670.4 649.3,673.9C651.6,677.5 655.0,682.5 656.7,686.9C658.4,691.2 659.0,697.8 659.5,700.0 M480.0,652.6C481.2,652.5 484.9,651.6 487.4,651.7C489.9,651.9 492.0,652.6 494.8,653.6C497.6,654.5 501.6,657.0 504.1,657.3C506.5,657.6 507.9,656.6 509.6,655.4C511.3,654.2 512.1,650.5 514.2,649.9C516.4,649.2 520.2,651.6 522.6,651.7C524.9,651.9 525.9,649.7 528.1,650.8C530.3,651.9 533.0,657.3 535.5,658.2C538.0,659.1 540.0,656.5 542.9,656.3C545.8,656.2 550.2,656.2 553.1,657.3C556.0,658.3 556.0,661.9 560.5,662.8C565.0,663.7 576.1,663.4 579.9,662.8C583.8,662.2 583.0,659.7 583.6,659.1 M535.5,658.2C534.7,659.0 531.6,660.5 530.9,662.8C530.1,665.1 530.1,668.7 530.9,672.1C531.6,675.5 534.4,678.5 535.5,683.2C536.6,687.8 537.0,697.2 537.4,700.0 M508.7,700.0C509.8,698.6 513.1,693.1 515.2,691.5C517.2,689.9 518.7,690.1 520.7,690.6C522.7,691.0 525.9,692.7 527.2,694.3C528.4,695.8 527.9,699.0 528.1,700.0 M391.6,776.6C392.8,777.4 397.4,778.1 399.1,781.6C400.7,785.1 400.0,794.6 401.6,797.4C403.1,800.2 406.6,799.4 408.2,798.2C409.9,797.1 409.3,792.7 411.6,790.7C413.8,788.8 417.1,788.1 421.6,786.6C426.0,785.1 434.0,783.7 438.2,781.6C442.4,779.5 441.8,776.6 446.5,774.1C451.2,771.6 460.9,769.0 466.5,766.6C472.1,764.2 477.8,761.1 480.0,759.9 M650.0,761.9C648.7,762.5 644.3,763.5 642.4,765.6C640.5,767.6 641.8,771.9 638.7,773.9C635.6,775.9 626.8,775.7 623.9,777.6C621.0,779.4 622.2,782.0 621.1,785.0C620.1,787.9 617.6,791.3 617.4,795.2C617.3,799.0 621.9,804.9 620.2,808.1C618.5,811.3 611.6,813.0 607.3,814.6C602.9,816.1 598.0,816.3 594.3,817.4C590.6,818.4 587.8,819.2 585.1,821.1C582.3,822.9 579.0,828.5 577.7,828.5C576.3,828.5 576.1,824.1 576.7,821.1C577.4,818.0 580.6,813.2 581.4,810.0C582.1,806.7 583.5,804.7 581.4,801.6C579.2,798.5 570.6,793.1 568.4,791.5 M620.2,808.1C620.8,809.6 622.8,812.7 623.9,817.4C625.0,822.0 626.2,832.8 626.7,835.9 M640.0,665.6C641.2,666.5 644.3,666.6 647.4,671.1C650.5,675.6 656.5,687.3 658.5,692.4C660.5,697.5 658.3,698.4 659.4,701.6C660.5,704.9 662.7,709.6 665.0,711.8C667.3,714.0 671.5,712.6 673.3,714.6C675.2,716.6 674.4,722.1 676.1,723.8C677.8,725.5 681.2,723.8 683.5,724.8C685.8,725.7 687.6,727.1 690.0,729.4C692.3,731.7 694.3,737.4 697.4,738.6C700.4,739.9 705.5,736.2 708.5,736.8C711.4,737.4 713.2,740.3 714.9,742.3C716.6,744.3 718.3,746.8 718.6,748.8C718.9,750.8 717.9,753.1 716.8,754.4C715.7,755.6 712.5,755.6 712.2,756.2C711.8,756.8 714.5,757.7 714.9,758.1 M676.1,723.8C674.1,724.9 667.4,727.4 664.1,730.3C660.7,733.2 657.1,738.5 655.7,741.4C654.3,744.3 654.3,746.2 655.7,747.9C657.1,749.6 662.0,750.2 664.1,751.6C666.1,753.0 668.1,754.5 667.8,756.2C667.4,757.9 664.7,761.0 662.2,761.8C659.7,762.5 656.3,759.6 653.0,760.8C649.6,762.1 644.0,767.2 641.9,769.2C639.7,771.2 640.3,772.2 640.0,772.9 M418.3,640.0C419.1,640.7 421.5,643.3 422.9,644.2C424.3,645.0 425.4,644.4 426.6,645.1C427.8,645.8 428.6,648.8 430.3,648.3C432.0,647.9 434.9,643.7 436.8,642.3C438.7,640.9 441.0,640.4 441.9,640.0 M502.9,721.1C501.7,722.6 497.7,728.1 495.5,730.3C493.3,732.5 493.0,732.2 490.0,734.0C486.9,735.9 480.1,739.2 477.0,741.4C473.9,743.6 471.3,744.8 471.5,747.0C471.6,749.1 476.5,752.0 477.9,754.4C479.3,756.7 479.5,759.8 479.8,760.8 M479.8,760.8C482.4,760.8 490.4,761.4 495.5,760.8C500.6,760.2 506.3,758.1 510.3,757.1C514.3,756.2 517.4,753.9 519.6,755.3C521.7,756.7 521.1,763.5 523.3,765.5C525.4,767.5 529.7,765.8 532.5,767.3C535.3,768.8 538.4,772.2 539.9,774.7C541.4,777.2 539.9,780.9 541.8,782.1C543.6,783.3 547.9,781.5 551.0,782.1C554.1,782.7 557.5,784.3 560.3,785.8C563.1,787.4 566.6,790.4 567.8,791.4 M440.0,778.4C441.9,777.2 447.4,771.9 451.1,771.0C454.8,770.1 458.5,772.9 462.2,772.9C465.9,772.9 470.4,773.0 473.3,771.0C476.2,769.0 478.7,762.5 479.8,760.8" stroke="#808080" stroke-width="1.6" fill="none" stroke-linejoin="round" stroke-linecap="round"/>
<path d="M666.2,46.5C665.2,46.8 661.8,47.2 660.6,48.3C659.4,49.4 659.2,50.9 658.8,53.0C658.3,55.0 657.2,58.2 657.8,60.4C658.5,62.5 662.0,64.2 662.5,65.9C662.9,67.6 661.7,69.0 660.6,70.5C659.5,72.1 657.2,73.8 656.0,75.2C654.8,76.5 654.3,78.4 653.2,78.9C652.1,79.3 650.7,77.8 649.5,77.9C648.3,78.1 647.2,79.8 645.8,79.8C644.4,79.8 642.7,77.8 641.2,77.9C639.6,78.1 638.3,79.8 636.6,80.7C634.9,81.6 632.7,83.0 631.0,83.5C629.3,83.9 628.1,83.0 626.4,83.5C624.7,83.9 622.5,85.3 620.8,86.3C619.1,87.2 617.7,88.3 616.2,89.0C614.7,89.8 613.1,90.0 611.6,90.9C610.0,91.8 608.2,92.6 607.0,94.6C605.7,96.6 605.4,100.6 604.2,102.9C602.9,105.2 601.4,107.7 599.6,108.5C597.7,109.2 595.1,107.4 593.1,107.5C591.1,107.7 588.8,108.0 587.5,109.4C586.3,110.8 585.5,114.2 585.7,115.9C585.8,117.6 588.8,118.8 588.5,119.6C588.1,120.3 585.1,119.6 583.8,120.5C582.6,121.4 581.1,123.9 581.1,125.1C581.1,126.3 582.4,127.0 583.8,127.9C585.2,128.8 587.8,129.0 589.4,130.7C590.9,132.4 592.0,136.4 593.1,138.1C594.2,139.8 595.7,139.3 595.9,140.8C596.0,142.4 594.2,145.0 594.0,147.3C593.9,149.6 594.6,152.6 594.9,154.7C595.2,156.9 595.2,158.6 595.9,160.3C596.5,162.0 598.9,163.7 598.6,164.9C598.3,166.1 595.7,167.4 594.0,167.7C592.3,168.0 590.2,166.9 588.5,166.7C586.8,166.6 585.4,166.6 583.8,166.7C582.3,166.9 580.4,166.4 579.2,167.7C578.0,168.9 577.5,174.0 576.4,174.1C575.3,174.3 574.0,169.7 572.7,168.6C571.5,167.5 570.1,167.2 569.0,167.7C567.9,168.1 566.9,169.8 566.3,171.4C565.6,172.9 565.2,175.1 565.3,176.9C565.5,178.8 567.3,180.6 567.2,182.5C567.0,184.3 565.6,186.6 564.4,188.0C563.2,189.4 560.2,189.7 559.8,190.8C559.3,191.9 560.9,193.3 561.6,194.5C562.4,195.7 563.5,198.2 564.4,198.2C565.3,198.2 565.8,194.8 567.2,194.5C568.6,194.2 571.6,194.6 572.7,196.3C573.8,198.0 574.1,202.5 573.7,204.7C573.2,206.8 571.5,208.2 570.0,209.3C568.4,210.4 566.3,210.7 564.4,211.1C562.6,211.6 561.2,212.4 558.9,212.1C556.5,211.8 552.1,210.5 550.5,209.3C549.0,208.1 549.0,207.1 549.6,204.7C550.2,202.2 553.8,198.0 554.2,194.5C554.7,190.9 553.5,186.0 552.4,183.4C551.3,180.8 550.1,180.3 547.8,178.8C545.4,177.2 542.0,175.1 538.5,174.1C535.0,173.2 528.9,170.9 526.5,173.2C524.0,175.5 524.8,185.2 523.7,188.0C522.6,190.8 520.6,189.6 520.0,189.9 M564.4,211.1C564.1,212.2 563.3,215.6 562.6,217.6C561.8,219.6 560.7,221.3 559.8,223.2C558.9,225.0 557.2,226.9 557.0,228.7C556.8,230.6 558.7,232.4 558.9,234.3C559.0,236.1 558.1,239.0 557.9,240.0 M523.4,187.9C522.6,188.2 521.1,189.8 518.8,189.8C516.4,189.8 513.4,189.3 509.5,187.9C505.7,186.5 498.4,183.0 495.6,181.5C492.9,179.9 493.8,181.6 492.9,178.7C491.9,175.7 493.2,165.6 490.1,163.9C487.0,162.2 478.5,167.4 474.4,168.5C470.2,169.6 468.7,169.3 465.1,170.4C461.6,171.4 456.6,168.0 453.1,175.0C449.5,181.9 450.9,201.6 443.8,212.0C436.7,222.3 416.5,230.9 410.5,237.0C404.5,243.0 408.8,245.0 407.8,248.1C406.7,251.1 405.0,251.9 404.1,255.5C403.1,259.0 404.2,266.4 402.2,269.3C400.2,272.3 395.3,270.4 392.0,273.0C388.8,275.7 384.2,280.4 382.8,285.1C381.4,289.7 384.2,295.2 383.7,300.8C383.2,306.3 380.6,315.4 380.0,318.4 M563.2,212.9C563.0,214.3 563.2,219.1 562.2,221.2C561.3,223.4 558.2,224.0 557.6,225.9C557.0,227.7 557.9,230.8 558.5,232.3C559.2,233.9 561.0,233.4 561.3,235.1C561.6,236.8 561.3,240.7 560.4,242.5C559.5,244.4 556.7,244.7 555.8,246.2C554.8,247.7 554.2,250.5 554.8,251.8C555.5,253.0 559.8,252.8 559.5,253.6C559.2,254.4 554.2,254.5 553.0,256.4C551.8,258.2 552.1,262.4 552.1,264.7C552.1,267.0 552.2,268.9 553.0,270.3C553.8,271.6 556.4,271.8 556.7,273.0C557.0,274.3 555.9,277.5 554.8,277.7C553.8,277.8 551.3,273.7 550.2,274.0C549.1,274.3 548.8,277.4 548.4,279.5C547.9,281.7 546.8,285.7 547.4,286.9C548.1,288.1 551.1,286.3 552.1,286.9C553.0,287.5 551.9,288.5 553.0,290.6C554.1,292.8 557.3,297.1 558.5,299.9C559.8,302.6 560.5,304.5 560.4,307.3C560.2,310.0 557.2,313.7 557.6,316.5C558.1,319.3 561.3,322.5 563.2,323.9C565.0,325.3 568.3,323.8 568.7,324.8C569.2,325.9 567.6,329.8 565.9,330.4C564.2,331.0 559.0,327.8 558.5,328.5C558.1,329.3 561.2,333.3 563.2,335.0C565.2,336.7 569.6,336.2 570.6,338.7C571.5,341.2 569.0,348.1 568.7,350.0 M384.4,300.0C383.7,302.8 382.4,312.3 380.7,316.7C379.0,321.0 377.1,323.3 374.2,325.9C371.3,328.5 365.2,330.5 363.1,332.4C360.9,334.2 361.5,334.7 361.2,337.0C360.9,339.3 360.6,343.8 361.2,346.3C361.8,348.7 363.2,349.5 364.9,351.8C366.6,354.1 370.2,357.5 371.4,360.1C372.6,362.8 372.9,365.5 372.3,367.5C371.7,369.5 370.5,370.9 367.7,372.2C364.9,373.4 358.0,372.9 355.7,374.9C353.4,376.9 354.6,382.2 353.8,384.2C353.1,386.2 352.4,387.0 351.1,387.0C349.7,387.0 347.0,384.8 345.5,384.2C344.0,383.6 342.9,382.8 341.8,383.3C340.7,383.7 340.7,386.2 339.0,387.0C337.3,387.7 333.2,385.4 331.6,387.9C330.1,390.3 330.1,398.2 329.8,401.8C329.5,405.3 330.4,406.8 329.8,409.2C329.2,411.5 327.3,412.6 326.1,415.6C324.8,418.7 323.8,424.3 322.4,427.7C321.0,431.1 319.1,434.4 317.8,436.0C316.4,437.5 315.6,435.5 314.1,436.9C312.5,438.3 309.4,442.2 308.5,444.3C307.6,446.5 305.3,447.2 308.5,449.9C311.7,452.5 323.3,457.4 327.9,460.0C332.6,462.7 334.7,463.6 336.3,465.6C337.8,467.6 337.5,471.4 337.2,472.1C336.9,472.7 335.2,469.6 334.4,469.3C333.6,469.0 333.6,468.7 332.6,470.2C331.5,471.8 330.5,477.2 327.9,478.5C325.3,479.9 318.7,476.8 316.8,478.5C315.0,480.2 317.6,486.4 316.8,488.7C316.1,491.0 312.7,490.5 312.2,492.4C311.7,494.3 313.7,498.7 314.1,500.0 M556.0,300.0C556.8,300.9 560.3,302.8 560.7,305.6C561.0,308.3 557.7,314.2 557.9,316.7C558.0,319.1 559.9,319.1 561.6,320.4C563.3,321.6 567.7,322.4 568.1,324.1C568.4,325.7 565.0,329.6 563.4,330.5C561.9,331.5 559.0,329.0 558.8,329.6C558.7,330.2 560.7,333.0 562.5,334.2C564.4,335.5 568.8,335.3 569.9,337.0C571.0,338.7 569.9,342.4 569.0,344.4C568.1,346.4 564.2,347.6 564.4,349.0C564.5,350.4 568.2,351.3 569.9,352.7C571.6,354.1 572.1,355.7 574.5,357.4C577.0,359.1 583.5,360.9 584.7,362.9C585.9,364.9 582.2,366.6 581.9,369.4C581.6,372.2 581.8,376.6 582.9,379.6C583.9,382.5 587.2,384.5 588.4,387.0C589.6,389.4 589.5,393.7 590.3,394.4C591.0,395.0 592.7,392.8 593.0,390.7C593.3,388.5 591.3,383.3 592.1,381.4C592.9,379.6 596.6,378.3 597.7,379.6C598.7,380.8 597.8,385.6 598.6,388.8C599.4,392.0 601.5,398.2 602.3,399.0C603.1,399.8 601.8,394.2 603.2,393.4C604.6,392.7 608.0,393.6 610.6,394.4C613.2,395.1 617.9,396.5 618.9,398.1C620.0,399.6 616.8,401.4 617.1,403.6C617.4,405.8 620.5,409.0 620.8,411.0C621.1,413.0 619.1,414.2 618.9,415.6C618.8,417.0 620.3,418.3 619.9,419.3C619.4,420.4 616.5,420.9 616.2,422.1C615.9,423.3 616.8,425.5 618.0,426.7C619.2,428.0 622.5,428.0 623.6,429.5C624.6,431.1 624.8,434.6 624.5,436.0C624.2,437.4 621.6,435.8 621.7,437.8C621.9,439.8 623.4,445.4 625.4,448.0C627.4,450.6 630.8,450.6 633.7,453.6C636.7,456.5 639.8,462.7 643.0,465.6C646.2,468.5 650.9,470.5 653.2,471.1C655.5,471.8 655.3,468.8 656.9,469.3C658.4,469.8 661.0,472.1 662.4,473.9C663.8,475.8 663.9,479.2 665.2,480.4C666.5,481.6 669.2,481.2 670.0,481.3 M638.5,460.0C639.3,461.1 640.8,464.8 643.1,466.5C645.4,468.2 650.1,469.7 652.4,470.2C654.7,470.6 655.5,468.8 657.0,469.3C658.5,469.7 660.4,471.4 661.6,473.0C662.9,474.5 663.3,477.1 664.4,478.5C665.5,479.9 666.6,481.4 668.1,481.3C669.6,481.1 672.1,477.7 673.7,477.6C675.2,477.4 676.4,478.3 677.4,480.4C678.3,482.4 678.1,487.0 679.2,489.6C680.3,492.2 683.4,493.8 683.8,496.1C684.3,498.4 682.4,501.3 682.0,503.5C681.5,505.6 680.3,507.6 681.1,509.0C681.8,510.4 684.9,511.8 686.6,511.8C688.3,511.8 690.0,511.0 691.2,509.0C692.5,507.0 692.6,501.8 694.0,499.8C695.4,497.8 696.8,497.5 699.6,497.0C702.3,496.5 707.3,494.8 710.7,497.0C714.0,499.2 716.5,505.2 719.9,510.0C723.3,514.7 728.2,522.4 731.0,525.7C733.8,528.9 733.6,528.5 736.6,529.4C739.5,530.3 746.0,529.8 748.6,531.2C751.2,532.6 750.6,537.2 752.3,537.7C754.0,538.2 757.2,534.3 758.8,534.0C760.3,533.7 760.0,535.5 761.5,535.9C763.1,536.2 765.1,537.7 768.0,535.9C770.9,534.0 776.2,525.7 779.1,524.8C782.0,523.8 783.9,528.6 785.6,530.3C787.3,532.0 787.9,534.0 789.3,534.9C790.7,535.9 791.9,535.1 793.9,535.9C795.9,536.6 799.5,537.9 801.3,539.6C803.2,541.3 803.6,545.7 805.0,546.0C806.4,546.3 808.7,543.3 809.6,541.4C810.6,539.6 809.3,535.5 810.6,534.9C811.8,534.3 816.0,536.2 817.0,537.7C818.1,539.2 818.0,542.3 817.0,544.2C816.1,546.0 813.8,547.1 811.5,548.8C809.2,550.5 804.9,552.4 803.2,554.4C801.5,556.4 800.7,559.0 801.3,560.8C801.9,562.7 806.1,563.5 806.9,565.5C807.6,567.5 805.5,570.4 805.9,572.9C806.4,575.3 809.0,577.8 809.6,580.3C810.3,582.7 810.4,586.0 809.6,587.7C808.9,589.4 806.9,589.4 805.0,590.4C803.2,591.5 799.8,592.1 798.5,594.1C797.3,596.1 797.6,598.8 797.6,602.5C797.6,606.2 797.8,613.3 798.5,616.3C799.3,619.4 800.7,619.7 802.2,621.0C803.8,622.2 807.0,623.0 807.8,623.7C808.6,624.5 808.6,625.9 806.9,625.6C805.2,625.3 799.6,622.0 797.6,621.9C795.6,621.7 794.4,623.0 794.8,624.7C795.3,626.4 799.3,630.4 800.4,632.1C801.5,633.8 801.8,634.4 801.3,634.8C800.9,635.3 799.5,633.5 797.6,634.8C795.8,636.2 792.7,640.5 790.2,643.2C787.7,645.8 785.3,648.9 782.8,650.6C780.3,652.3 777.7,651.8 775.4,653.3C773.1,654.9 770.0,658.9 768.9,660.0 M316.7,480.0C317.0,481.7 319.3,488.0 318.5,490.2C317.7,492.3 312.8,491.3 312.0,493.0C311.3,494.6 313.9,498.2 313.9,500.4C313.9,502.5 312.8,504.4 312.0,505.9C311.3,507.4 309.1,506.8 309.3,509.6C309.4,512.4 312.8,519.2 313.0,522.6C313.1,525.9 309.9,527.5 310.2,530.0C310.5,532.4 313.7,534.0 314.8,537.4C315.9,540.7 313.7,548.0 316.7,550.3C319.6,552.6 328.4,549.7 332.4,551.2C336.4,552.8 335.8,550.9 340.7,559.6C345.6,568.2 358.0,592.6 362.0,603.0C366.0,613.5 362.4,619.2 364.8,622.5C367.1,625.7 372.8,622.9 375.9,622.5C378.9,622.0 381.1,620.0 383.3,619.7C385.4,619.4 385.6,617.5 388.8,620.6C392.0,623.7 402.1,633.7 402.7,638.2C403.3,642.7 394.5,643.3 392.5,647.4C390.5,651.6 390.3,659.5 390.7,663.2C391.0,666.9 392.2,667.5 394.4,669.6C396.5,671.8 400.5,674.4 403.6,676.1C406.7,677.8 411.3,679.4 412.9,680.0 M85.1,734.3C88.2,737.5 100.7,749.3 104.1,753.3C107.4,757.4 104.3,754.4 105.3,758.4C106.4,762.4 107.9,773.6 110.4,777.4C112.9,781.2 120.1,778.3 120.5,781.2C121.0,784.2 111.9,790.1 112.9,795.2C114.0,800.2 124.6,807.4 126.9,811.6C129.2,815.8 128.8,817.5 126.9,820.5C125.0,823.4 115.9,826.6 115.5,829.4C115.1,832.1 122.2,833.8 124.3,837.0C126.5,840.1 127.1,846.2 128.1,848.4C129.2,850.5 128.6,850.9 130.7,849.6C132.8,848.4 137.4,842.2 140.8,840.8C144.2,839.3 146.3,841.6 150.9,840.8C155.6,839.9 164.2,837.4 168.7,835.7C173.1,834.0 174.8,833.4 177.6,830.6C180.3,827.9 182.2,820.9 185.2,819.2C188.1,817.5 191.1,819.4 195.3,820.5C199.5,821.5 206.3,822.0 210.5,825.6C214.7,829.1 217.7,841.8 220.6,842.0C223.6,842.2 227.4,831.0 228.2,826.8C229.1,822.6 224.6,819.9 225.7,816.7C226.7,813.5 231.6,811.0 234.6,807.8C237.5,804.7 240.3,799.8 243.4,797.7C246.6,795.6 250.8,794.9 253.6,795.2C256.3,795.4 256.7,797.9 259.9,799.0C263.1,800.0 269.2,800.0 272.6,801.5C275.9,803.0 277.2,807.0 280.2,807.8C283.1,808.7 287.3,807.2 290.3,806.6C293.3,805.9 295.8,803.8 297.9,804.0C300.0,804.2 301.3,807.2 303.0,807.8C304.7,808.5 305.7,808.5 308.0,807.8C310.4,807.2 315.2,807.2 316.9,804.0C318.6,800.9 316.5,792.0 318.2,788.8C319.9,785.7 324.1,784.6 327.0,785.0C330.0,785.4 334.4,790.3 335.9,791.4 M414.1,700.0C414.1,701.4 416.7,706.8 414.1,708.3C411.4,709.9 401.2,707.8 398.2,709.2C395.3,710.5 396.7,714.7 396.6,716.7C396.4,718.6 398.1,718.7 397.4,720.8C396.7,722.9 393.7,726.6 392.4,729.1C391.2,731.6 390.2,733.6 389.9,735.8C389.6,738.0 392.4,740.2 390.7,742.5C389.1,744.7 382.0,746.9 379.9,749.1C377.8,751.3 378.0,754.3 378.3,755.8C378.5,757.3 379.2,757.4 381.6,758.3C384.0,759.1 390.6,758.6 392.4,760.8C394.2,763.0 393.4,768.7 392.4,771.6C391.4,774.5 388.8,775.9 386.6,778.3C384.4,780.6 382.4,782.8 379.1,785.8C375.8,788.7 369.5,793.9 366.6,795.7C363.7,797.5 363.8,795.9 361.6,796.6C359.4,797.3 354.9,798.7 353.3,799.9C351.6,801.2 351.3,802.4 351.6,804.1C351.9,805.7 352.5,809.5 354.9,809.9C357.4,810.3 364.2,806.6 366.6,806.6C369.0,806.6 368.0,808.0 369.1,809.9C370.2,811.8 373.5,816.3 373.3,818.2C373.0,820.2 368.3,819.6 367.4,821.6C366.6,823.5 366.7,826.8 368.3,829.9C369.8,832.9 373.5,837.0 376.6,839.9C379.6,842.8 381.9,845.8 386.6,847.4C391.3,848.9 399.9,849.2 404.9,849.0C409.9,848.9 411.3,846.8 416.6,846.5C421.8,846.3 432.1,846.5 436.5,847.4C441.0,848.2 440.1,850.0 443.2,851.5C446.3,853.1 452.5,851.8 454.9,856.5C457.2,861.3 456.9,876.1 457.4,880.0 M326.6,784.9C328.4,786.3 333.0,790.7 337.5,793.2C341.9,795.7 350.6,798.8 353.3,799.9 M457.4,880.3C458.6,881.5 464.3,885.7 464.8,887.7C465.3,889.7 460.6,890.9 460.2,892.3C459.7,893.7 459.7,896.1 462.0,896.0C464.3,895.8 469.3,891.8 474.1,891.4C478.8,890.9 487.5,892.3 490.7,893.2C493.9,894.1 491.8,896.0 493.5,896.9C495.2,897.8 498.9,899.4 500.9,898.8C502.9,898.1 503.8,896.1 505.5,893.2C507.2,890.3 508.6,883.2 511.1,881.2C513.5,879.2 517.2,879.8 520.3,881.2C523.4,882.6 526.3,887.5 529.6,889.5C532.8,891.5 538.0,894.6 539.7,893.2C541.4,891.8 538.7,884.3 539.7,881.2C540.8,878.1 543.9,876.3 546.2,874.7C548.5,873.2 551.6,875.0 553.6,871.9C555.6,868.8 555.9,858.4 558.2,856.2C560.5,854.0 564.4,859.4 567.5,859.0C570.6,858.5 575.2,855.9 576.7,853.4C578.3,851.0 574.9,846.6 576.7,844.2C578.6,841.7 585.5,839.2 587.8,838.6C590.1,838.0 586.3,840.2 590.6,840.5C594.9,840.8 609.7,841.1 613.7,840.5C617.7,839.9 612.8,837.1 614.7,836.8C616.5,836.5 622.1,838.9 624.8,838.6C627.6,838.3 627.1,834.3 631.3,834.9C635.5,835.5 646.9,841.1 650.0,842.3 M769.5,660.0C768.3,661.5 764.9,666.3 762.1,669.3C759.3,672.2 754.9,675.0 752.9,677.6C750.9,680.2 749.6,683.3 750.1,685.0C750.5,686.7 754.1,686.5 755.6,687.8C757.2,689.0 759.3,689.6 759.3,692.4C759.3,695.2 757.0,700.9 755.6,704.4C754.2,707.9 752.6,709.6 751.0,713.7C749.5,717.7 748.2,725.1 746.4,728.5C744.5,731.8 742.1,731.7 739.9,734.0C737.7,736.3 735.7,740.0 733.4,742.3C731.1,744.6 728.2,746.3 726.0,747.9C723.9,749.4 722.2,749.9 720.5,751.6C718.8,753.3 716.3,755.7 715.9,758.1C715.4,760.4 716.9,763.5 717.7,765.5C718.5,767.5 720.9,769.5 720.5,770.1C720.0,770.7 716.9,769.0 714.9,769.2C712.9,769.3 710.0,769.9 708.5,771.0C706.9,772.1 705.5,773.9 705.7,775.6C705.8,777.3 707.1,779.2 709.4,781.2C711.7,783.2 717.6,785.3 719.6,787.7C721.6,790.0 722.0,792.3 721.4,795.1C720.8,797.8 718.2,801.4 715.9,804.3C713.5,807.2 709.4,810.2 707.5,812.6C705.7,815.1 704.6,815.9 704.8,819.1C704.9,822.3 707.4,825.2 708.5,832.1C709.5,838.9 710.8,855.3 711.2,860.0 M640.0,838.5C642.2,839.5 650.5,842.1 653.0,844.1C655.4,846.1 653.3,847.9 654.8,850.6C656.3,853.2 661.0,858.4 662.2,860.0 M713.1,880.2C714.2,880.5 717.0,881.6 719.6,882.1C722.2,882.5 726.1,883.3 728.9,883.0C731.6,882.7 733.8,881.8 736.3,880.2C738.7,878.7 742.0,875.3 743.7,873.8C745.3,872.2 744.9,871.3 746.4,871.0C748.0,870.7 751.2,870.8 752.9,871.9C754.6,873.0 755.5,876.1 756.6,877.5C757.7,878.8 758.3,879.9 759.4,880.2C760.5,880.5 761.4,878.7 763.1,879.3C764.8,879.9 767.6,883.6 769.6,883.9C771.6,884.2 773.3,880.7 775.1,881.2C777.0,881.6 778.3,884.4 780.7,886.7C783.0,889.0 786.4,893.3 789.0,895.0C791.6,896.7 793.8,895.5 796.4,896.9C799.0,898.3 801.9,901.0 804.7,903.4C807.5,905.7 810.6,909.4 813.0,910.8C815.5,912.1 817.2,910.6 819.5,911.7C821.8,912.8 824.8,915.2 826.9,917.2C829.1,919.2 831.2,922.0 832.5,923.7C833.7,925.4 835.2,926.3 834.3,927.4C833.4,928.5 828.9,928.9 826.9,930.2C824.9,931.4 823.1,932.8 822.3,934.8C821.5,936.8 821.7,940.2 822.3,942.2C822.9,944.2 824.4,945.9 826.0,946.8C827.5,947.8 830.5,946.8 831.5,947.8C832.6,948.7 831.4,950.8 832.5,952.4C833.5,953.9 835.5,956.2 838.0,957.0C840.5,957.8 844.6,956.2 847.3,957.0C849.9,957.8 853.0,958.1 853.7,961.6C854.5,965.2 851.1,976.0 851.9,978.3C852.7,980.6 856.5,975.4 858.4,975.5C860.2,975.7 863.1,976.7 863.0,979.2C862.8,981.7 859.0,987.5 857.4,990.3C855.9,993.1 854.8,995.9 853.7,995.9C852.7,995.9 852.3,991.7 851.0,990.3C849.6,988.9 847.3,987.7 845.4,987.5C843.6,987.4 840.8,987.8 839.9,989.4C838.9,990.9 839.2,994.5 839.9,996.8C840.5,999.1 842.0,1001.3 843.6,1003.3C845.1,1005.3 847.3,1007.7 849.1,1008.8C851.0,1009.9 853.3,1008.5 854.7,1009.7C856.0,1011.0 857.3,1013.7 857.4,1016.2C857.6,1018.7 854.5,1021.8 855.6,1024.5C856.7,1027.3 861.1,1029.6 863.9,1032.9C866.7,1036.1 870.1,1042.3 872.2,1044.0C874.4,1045.7 875.5,1042.7 876.9,1043.0C878.3,1043.4 879.9,1045.5 880.6,1046.0 M630.0,835.3C633.7,836.7 648.0,840.7 652.2,843.6C656.4,846.4 653.4,849.5 655.0,852.4C656.5,855.2 659.4,859.5 661.5,860.7C663.5,861.9 666.4,858.5 667.0,859.3C667.6,860.2 663.0,864.0 665.2,865.8C667.3,867.6 675.8,867.5 680.0,870.0C684.1,872.4 687.5,879.1 690.1,880.6C692.8,882.1 694.1,879.1 695.7,879.2C697.2,879.4 698.4,881.4 699.4,881.5C700.4,881.7 699.8,879.1 701.7,880.1C703.5,881.1 708.7,886.3 710.5,887.5C712.3,888.8 712.2,892.6 712.3,887.5C712.5,882.4 711.9,865.6 711.4,857.0C710.9,848.4 710.6,841.9 709.6,835.7C708.5,829.6 705.7,822.6 704.9,820.0 M712.3,878.3C712.9,878.9 714.6,881.5 716.0,882.0C717.4,882.4 718.3,880.9 720.7,881.1C723.0,881.2 728.4,882.6 730.0,882.9 M400.7,640.0C399.3,641.4 394.1,645.6 392.4,648.3C390.7,651.1 390.8,654.2 390.5,656.7C390.3,659.1 390.2,661.0 391.0,663.1C391.8,665.3 393.2,667.8 395.2,669.6C397.1,671.5 400.1,672.8 402.6,674.2C405.0,675.6 407.5,676.6 410.0,677.9C412.4,679.2 416.7,679.8 417.4,682.1C418.0,684.4 414.7,689.0 414.1,691.8C413.5,694.7 413.7,696.4 413.7,699.2C413.6,702.0 416.1,706.8 413.7,708.5C411.2,710.2 401.7,708.1 398.9,709.4C396.0,710.6 396.8,713.9 396.5,715.9C396.2,717.9 397.8,719.4 397.0,721.4C396.2,723.4 393.1,725.7 391.9,727.9C390.7,730.0 389.9,732.3 389.6,734.4C389.3,736.4 390.0,739.1 390.1,740.0" stroke="#000" stroke-width="3.2" fill="none" stroke-linejoin="round" stroke-linecap="round"/>
</g>
<rect x="85.5" y="45.4" width="906.8" height="1000.9" fill="none" stroke="#000" stroke-width="1.4"/>
<circle cx="829" cy="237" r="5.4" fill="#f00000" stroke="#000" stroke-width="1.1"/>
<rect x="94.55" y="50.5" width="218.2" height="49.9" fill="#fff" fill-opacity="0.85" stroke="#000" stroke-width="1.2"/><path d="M259.8,99.6L261.0,88.4L263.0,88.4L262.2,99.6Z" fill="#e6e6e6"/>
<text x="100.0" y="70.3" font-size="17.6" font-family="Liberation Sans, sans-serif" font-weight="normal" text-anchor="start" textLength="206.8" lengthAdjust="spacing" stroke="#000" stroke-width="0.2">Product: 0.8° Reflectivity</text>
<text x="100.0" y="91.0" font-size="17.6" font-family="Liberation Sans, sans-serif" font-weight="normal" text-anchor="start" textLength="93.2" lengthAdjust="spacing" stroke="#000" stroke-width="0.2">Data: DWD</text>
<text x="342.6" y="38" font-size="36.5" font-family="Liberation Sans, sans-serif" font-weight="normal" text-anchor="start" textLength="393.5" lengthAdjust="spacing" stroke="#000" stroke-width="0.35">25.10.2025 01:40 UTC</text>
<g transform="translate(77.2,100.6) scale(1.065,1)"><text x="0" y="0" font-size="17.3" font-family="Liberation Sans, sans-serif" font-weight="normal" text-anchor="end" stroke="#000" stroke-width="0.2">50.25°N</text></g>
<g transform="translate(77.2,251.8) scale(1.065,1)"><text x="0" y="0" font-size="17.3" font-family="Liberation Sans, sans-serif" font-weight="normal" text-anchor="end" stroke="#000" stroke-width="0.2">50.1°N</text></g>
<g transform="translate(77.2,402.5) scale(1.065,1)"><text x="0" y="0" font-size="17.3" font-family="Liberation Sans, sans-serif" font-weight="normal" text-anchor="end" stroke="#000" stroke-width="0.2">49.95°N</text></g>
<g transform="translate(77.2,552.7) scale(1.065,1)"><text x="0" y="0" font-size="17.3" font-family="Liberation Sans, sans-serif" font-weight="normal" text-anchor="end" stroke="#000" stroke-width="0.2">49.8°N</text></g>
<g transform="translate(77.2,702.5) scale(1.065,1)"><text x="0" y="0" font-size="17.3" font-family="Liberation Sans, sans-serif" font-weight="normal" text-anchor="end" stroke="#000" stroke-width="0.2">49.65°N</text></g>
<g transform="translate(77.2,851.8) scale(1.065,1)"><text x="0" y="0" font-size="17.3" font-family="Liberation Sans, sans-serif" font-weight="normal" text-anchor="end" stroke="#000" stroke-width="0.2">49.5°N</text></g>
<g transform="translate(77.2,1000.7) scale(1.065,1)"><text x="0" y="0" font-size="17.3" font-family="Liberation Sans, sans-serif" font-weight="normal" text-anchor="end" stroke="#000" stroke-width="0.2">49.35°N</text></g>
<g transform="translate(214.9,1066.8) scale(1.04,1)"><text x="0" y="0" font-size="17" font-family="Liberation Sans, sans-serif" font-weight="normal" text-anchor="middle" stroke="#000" stroke-width="0.2">5.6°E</text></g>
<g transform="translate(344.5,1066.8) scale(1.04,1)"><text x="0" y="0" font-size="17" font-family="Liberation Sans, sans-serif" font-weight="normal" text-anchor="middle" stroke="#000" stroke-width="0.2">5.8°E</text></g>
<g transform="translate(474.0,1066.8) scale(1.04,1)"><text x="0" y="0" font-size="17" font-family="Liberation Sans, sans-serif" font-weight="normal" text-anchor="middle" stroke="#000" stroke-width="0.2">6°E</text></g>
<g transform="translate(603.6,1066.8) scale(1.04,1)"><text x="0" y="0" font-size="17" font-family="Liberation Sans, sans-serif" font-weight="normal" text-anchor="middle" stroke="#000" stroke-width="0.2">6.2°E</text></g>
<g transform="translate(733.1,1066.8) scale(1.04,1)"><text x="0" y="0" font-size="17" font-family="Liberation Sans, sans-serif" font-weight="normal" text-anchor="middle" stroke="#000" stroke-width="0.2">6.4°E</text></g>
<g transform="translate(862.7,1066.8) scale(1.04,1)"><text x="0" y="0" font-size="17" font-family="Liberation Sans, sans-serif" font-weight="normal" text-anchor="middle" stroke="#000" stroke-width="0.2">6.6°E</text></g>
<text x="397.8" y="367.7" font-size="20.2" font-family="Liberation Sans, sans-serif" font-weight="bold" text-anchor="start" textLength="53.4" lengthAdjust="spacingAndGlyphs" stroke="#000" stroke-width="0.45">Wiltz</text>
<path d="M429.46,374.74V382.14" stroke="#000" stroke-width="1.3" stroke-linecap="round"/><path d="M426.06,378.44H432.86" stroke="#000" stroke-width="1"/><rect x="426.06" y="377.04" width="1.9" height="2.8" fill="#000"/><rect x="430.96" y="377.04" width="1.9" height="2.8" fill="#000"/>
<text x="507.5" y="487.8" font-size="20.2" font-family="Liberation Sans, sans-serif" font-weight="bold" text-anchor="start" textLength="113.0" lengthAdjust="spacingAndGlyphs" stroke="#000" stroke-width="0.45">Ettelbruck</text>
<path d="M539.46,494.70V502.10" stroke="#000" stroke-width="1.3" stroke-linecap="round"/><path d="M536.06,498.40H542.86" stroke="#000" stroke-width="1"/><rect x="536.06" y="497.00" width="1.9" height="2.8" fill="#000"/><rect x="540.96" y="497.00" width="1.9" height="2.8" fill="#000"/>
<text x="578.5" y="710.5" font-size="20.2" font-family="Liberation Sans, sans-serif" font-weight="bold" text-anchor="start" textLength="65.0" lengthAdjust="spacingAndGlyphs" stroke="#000" stroke-width="0.45">Findel</text>
<path d="M610.65,717.77V725.17" stroke="#000" stroke-width="1.3" stroke-linecap="round"/><path d="M607.25,721.47H614.05" stroke="#000" stroke-width="1"/><rect x="607.25" y="720.07" width="1.9" height="2.8" fill="#000"/><rect x="612.15" y="720.07" width="1.9" height="2.8" fill="#000"/>
<text x="436.8" y="837.3" font-size="20.2" font-family="Liberation Sans, sans-serif" font-weight="bold" text-anchor="start" textLength="133.7" lengthAdjust="spacingAndGlyphs" stroke="#000" stroke-width="0.45">Esch/Alzette</text>
<path d="M467.57,844.40V851.80" stroke="#000" stroke-width="1.3" stroke-linecap="round"/><path d="M464.17,848.10H470.97" stroke="#000" stroke-width="1"/><rect x="464.17" y="846.70" width="1.9" height="2.8" fill="#000"/><rect x="469.07" y="846.70" width="1.9" height="2.8" fill="#000"/>
<rect x="1050.3" y="963.84" width="45.5" height="32.46" fill="#6374a8"/>
<rect x="1050.3" y="931.69" width="45.5" height="32.46" fill="#52689f"/>
<rect x="1050.3" y="899.53" width="45.5" height="32.46" fill="#405ca0"/>
<rect x="1050.3" y="867.37" width="45.5" height="32.46" fill="#4878b0"/>
<rect x="1050.3" y="835.21" width="45.5" height="32.46" fill="#5a9ec8"/>
<rect x="1050.3" y="803.06" width="45.5" height="32.46" fill="#66c0dc"/>
<rect x="1050.3" y="770.90" width="45.5" height="32.46" fill="#62d4c4"/>
<rect x="1050.3" y="738.74" width="45.5" height="32.46" fill="#40d070"/>
<rect x="1050.3" y="706.59" width="45.5" height="32.46" fill="#14c814"/>
<rect x="1050.3" y="674.43" width="45.5" height="32.46" fill="#10b010"/>
<rect x="1050.3" y="642.27" width="45.5" height="32.46" fill="#0fa00f"/>
<rect x="1050.3" y="610.11" width="45.5" height="32.46" fill="#0c8c0c"/>
<rect x="1050.3" y="577.96" width="45.5" height="32.46" fill="#0a780a"/>
<rect x="1050.3" y="545.80" width="45.5" height="32.46" fill="#086008"/>
<rect x="1050.3" y="513.64" width="45.5" height="32.46" fill="#467812"/>
<rect x="1050.3" y="481.49" width="45.5" height="32.46" fill="#b0b010"/>
<rect x="1050.3" y="449.33" width="45.5" height="32.46" fill="#ffd700"/>
<rect x="1050.3" y="417.17" width="45.5" height="32.46" fill="#ffb800"/>
<rect x="1050.3" y="385.01" width="45.5" height="32.46" fill="#ff9a00"/>
<rect x="1050.3" y="352.86" width="45.5" height="32.46" fill="#ff8000"/>
<rect x="1050.3" y="320.70" width="45.5" height="32.46" fill="#e00000"/>
<rect x="1050.3" y="288.54" width="45.5" height="32.46" fill="#c00000"/>
<rect x="1050.3" y="256.39" width="45.5" height="32.46" fill="#a00000"/>
<rect x="1050.3" y="224.23" width="45.5" height="32.46" fill="#800000"/>
<rect x="1050.3" y="192.07" width="45.5" height="32.46" fill="#ffe0ff"/>
<rect x="1050.3" y="159.91" width="45.5" height="32.46" fill="#ffb3ff"/>
<rect x="1050.3" y="127.76" width="45.5" height="32.46" fill="#ff66ff"/>
<rect x="1050.3" y="95.60" width="45.5" height="32.46" fill="#e833e8"/>
<rect x="1050.3" y="95.6" width="45.5" height="900.4" fill="none" stroke="#000" stroke-width="1.1"/>
<path d="M1095.8,996.0H1102" stroke="#000" stroke-width="1.1"/>
<g transform="translate(1105.4,1006.2) scale(1.03,1)"><text x="0" y="0" font-size="29.6" font-family="Liberation Sans, sans-serif" font-weight="normal" text-anchor="start" stroke="#000" stroke-width="0.3">0</text></g>
<path d="M1095.8,867.4H1102" stroke="#000" stroke-width="1.1"/>
<g transform="translate(1105.4,877.6) scale(1.03,1)"><text x="0" y="0" font-size="29.6" font-family="Liberation Sans, sans-serif" font-weight="normal" text-anchor="start" stroke="#000" stroke-width="0.3">10</text></g>
<path d="M1095.8,738.7H1102" stroke="#000" stroke-width="1.1"/>
<g transform="translate(1105.4,748.9) scale(1.03,1)"><text x="0" y="0" font-size="29.6" font-family="Liberation Sans, sans-serif" font-weight="normal" text-anchor="start" stroke="#000" stroke-width="0.3">20</text></g>
<path d="M1095.8,610.1H1102" stroke="#000" stroke-width="1.1"/>
<g transform="translate(1105.4,620.3) scale(1.03,1)"><text x="0" y="0" font-size="29.6" font-family="Liberation Sans, sans-serif" font-weight="normal" text-anchor="start" stroke="#000" stroke-width="0.3">30</text></g>
<path d="M1095.8,481.5H1102" stroke="#000" stroke-width="1.1"/>
<g transform="translate(1105.4,491.7) scale(1.03,1)"><text x="0" y="0" font-size="29.6" font-family="Liberation Sans, sans-serif" font-weight="normal" text-anchor="start" stroke="#000" stroke-width="0.3">40</text></g>
<path d="M1095.8,352.9H1102" stroke="#000" stroke-width="1.1"/>
<g transform="translate(1105.4,363.1) scale(1.03,1)"><text x="0" y="0" font-size="29.6" font-family="Liberation Sans, sans-serif" font-weight="normal" text-anchor="start" stroke="#000" stroke-width="0.3">50</text></g>
<path d="M1095.8,224.2H1102" stroke="#000" stroke-width="1.1"/>
<g transform="translate(1105.4,234.4) scale(1.03,1)"><text x="0" y="0" font-size="29.6" font-family="Liberation Sans, sans-serif" font-weight="normal" text-anchor="start" stroke="#000" stroke-width="0.3">60</text></g>
<path d="M1095.8,95.6H1102" stroke="#000" stroke-width="1.1"/>
<g transform="translate(1105.4,105.8) scale(1.03,1)"><text x="0" y="0" font-size="29.6" font-family="Liberation Sans, sans-serif" font-weight="normal" text-anchor="start" stroke="#000" stroke-width="0.3">70</text></g>
<text transform="translate(1169.3,548.2) rotate(-90) scale(1.0,1)" x="0" y="0" font-size="29.6" font-family="Liberation Sans, sans-serif" text-anchor="middle" stroke="#000" stroke-width="0.3">dBZ</text>
</svg>
</body></html>
